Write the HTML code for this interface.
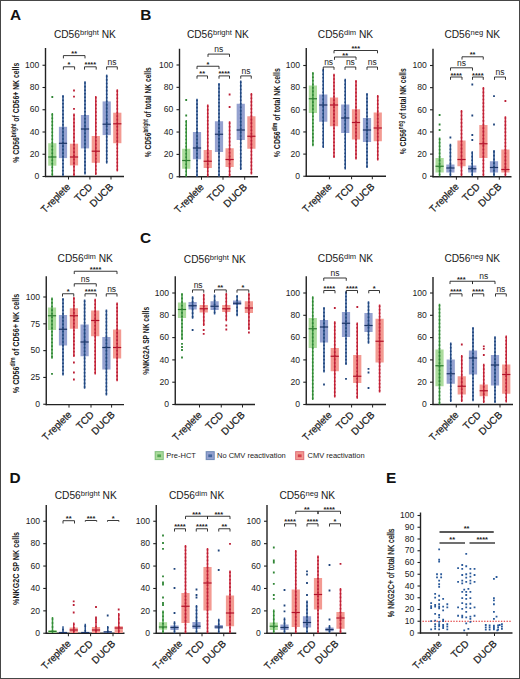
<!DOCTYPE html>
<html><head><meta charset="utf-8"><style>
html,body{margin:0;padding:0;background:#fff;}
#fig{position:relative;width:520px;height:679px;overflow:hidden;}
svg{display:block;font-family:"Liberation Sans", sans-serif;}
</style></head><body><div id="fig">
<svg width="520" height="679" viewBox="0 0 520 679">
<rect x="0" y="0" width="520" height="679" fill="#fff"/>
<text x="10.00" y="20.10" font-size="15.4" text-anchor="start" font-weight="bold" fill="#111" >A</text>
<text x="140.30" y="20.20" font-size="15.4" text-anchor="start" font-weight="bold" fill="#111" >B</text>
<text x="139.90" y="243.40" font-size="15.4" text-anchor="start" font-weight="bold" fill="#111" >C</text>
<text x="9.50" y="482.90" font-size="15.4" text-anchor="start" font-weight="bold" fill="#111" >D</text>
<text x="386.00" y="482.90" font-size="15.4" text-anchor="start" font-weight="bold" fill="#111" >E</text>
<text x="84.90" y="37.90" font-size="10.2" text-anchor="middle" fill="#1a1a1a">CD56<tspan font-size="7.6" dy="-3.4">bright</tspan><tspan dy="3.4"> NK</tspan></text>
<text transform="translate(18.90,112.75) rotate(-90)" x="0" y="0" font-size="9.6" text-anchor="middle" fill="#1a1a1a" font-weight="bold" stroke="#1a1a1a" stroke-width="0" textLength="100" lengthAdjust="spacingAndGlyphs">% CD56<tspan font-size="6.72" dy="-3.4">bright</tspan><tspan dy="3.4"> of CD56+ NK cells</tspan></text>
<line x1="45.50" y1="48.00" x2="45.50" y2="177.10" stroke="#222" stroke-width="1.4" />
<line x1="44.90" y1="176.50" x2="124.00" y2="176.50" stroke="#222" stroke-width="1.4" />
<line x1="42.50" y1="176.50" x2="45.50" y2="176.50" stroke="#222" stroke-width="1.1" />
<text x="39.30" y="179.20" font-size="8.6" text-anchor="end" font-weight="normal" fill="#222" >0</text>
<line x1="42.50" y1="154.25" x2="45.50" y2="154.25" stroke="#222" stroke-width="1.1" />
<text x="39.30" y="156.95" font-size="8.6" text-anchor="end" font-weight="normal" fill="#222" >20</text>
<line x1="42.50" y1="132.00" x2="45.50" y2="132.00" stroke="#222" stroke-width="1.1" />
<text x="39.30" y="134.70" font-size="8.6" text-anchor="end" font-weight="normal" fill="#222" >40</text>
<line x1="42.50" y1="109.75" x2="45.50" y2="109.75" stroke="#222" stroke-width="1.1" />
<text x="39.30" y="112.45" font-size="8.6" text-anchor="end" font-weight="normal" fill="#222" >60</text>
<line x1="42.50" y1="87.50" x2="45.50" y2="87.50" stroke="#222" stroke-width="1.1" />
<text x="39.30" y="90.20" font-size="8.6" text-anchor="end" font-weight="normal" fill="#222" >80</text>
<line x1="42.50" y1="65.25" x2="45.50" y2="65.25" stroke="#222" stroke-width="1.1" />
<text x="39.30" y="67.95" font-size="8.6" text-anchor="end" font-weight="normal" fill="#222" >100</text>
<line x1="68.50" y1="176.50" x2="68.50" y2="179.50" stroke="#222" stroke-width="1" />
<line x1="89.90" y1="176.50" x2="89.90" y2="179.50" stroke="#222" stroke-width="1" />
<line x1="111.00" y1="176.50" x2="111.00" y2="179.50" stroke="#222" stroke-width="1" />
<rect x="48.20" y="143.20" width="8.20" height="22.50" fill="#acdc9d" />
<line x1="52.30" y1="113.00" x2="52.30" y2="176.00" stroke="#3f9a40" stroke-width="1.5" />
<path d="M51.5,114.0h1.6v1.6h-1.6zM51.5,117.5h1.6v1.6h-1.6zM51.5,121.0h1.6v1.6h-1.6zM51.5,124.5h1.6v1.6h-1.6zM51.5,128.0h1.6v1.6h-1.6zM51.5,131.4h1.6v1.6h-1.6zM51.5,134.9h1.6v1.6h-1.6zM51.5,138.4h1.6v1.6h-1.6zM51.5,141.9h1.6v1.6h-1.6zM51.5,145.4h1.6v1.6h-1.6zM51.5,148.9h1.6v1.6h-1.6zM51.5,152.4h1.6v1.6h-1.6zM51.5,155.9h1.6v1.6h-1.6zM51.5,159.4h1.6v1.6h-1.6zM51.5,162.9h1.6v1.6h-1.6zM51.5,166.4h1.6v1.6h-1.6zM51.5,169.9h1.6v1.6h-1.6zM51.5,173.4h1.6v1.6h-1.6zM51.4,96.1h1.8v1.8h-1.8z" fill="#2f8535"/>
<line x1="48.20" y1="157.00" x2="56.40" y2="157.00" stroke="#2c7d30" stroke-width="1.2" />
<rect x="58.90" y="126.80" width="8.20" height="31.30" fill="#95a2d0" />
<line x1="63.00" y1="95.00" x2="63.00" y2="176.00" stroke="#2c5590" stroke-width="1.5" />
<path d="M62.2,96.0h1.6v1.6h-1.6zM62.2,99.5h1.6v1.6h-1.6zM62.2,103.0h1.6v1.6h-1.6zM62.2,106.5h1.6v1.6h-1.6zM62.2,110.0h1.6v1.6h-1.6zM62.2,113.6h1.6v1.6h-1.6zM62.2,117.1h1.6v1.6h-1.6zM62.2,120.6h1.6v1.6h-1.6zM62.2,124.1h1.6v1.6h-1.6zM62.2,127.7h1.6v1.6h-1.6zM62.2,131.2h1.6v1.6h-1.6zM62.2,134.7h1.6v1.6h-1.6zM62.2,138.2h1.6v1.6h-1.6zM62.2,141.7h1.6v1.6h-1.6zM62.2,145.3h1.6v1.6h-1.6zM62.2,148.8h1.6v1.6h-1.6zM62.2,152.3h1.6v1.6h-1.6zM62.2,155.8h1.6v1.6h-1.6zM62.2,159.4h1.6v1.6h-1.6zM62.2,162.9h1.6v1.6h-1.6zM62.2,166.4h1.6v1.6h-1.6zM62.2,169.9h1.6v1.6h-1.6zM62.2,173.4h1.6v1.6h-1.6z" fill="#20457c"/>
<line x1="58.90" y1="143.30" x2="67.10" y2="143.30" stroke="#1b3566" stroke-width="1.2" />
<rect x="69.90" y="143.70" width="8.20" height="21.70" fill="#f39a92" />
<line x1="74.00" y1="113.50" x2="74.00" y2="176.00" stroke="#cc2a3c" stroke-width="1.5" />
<path d="M73.2,114.5h1.6v1.6h-1.6zM73.2,118.2h1.6v1.6h-1.6zM73.2,121.9h1.6v1.6h-1.6zM73.2,125.6h1.6v1.6h-1.6zM73.2,129.2h1.6v1.6h-1.6zM73.2,132.9h1.6v1.6h-1.6zM73.2,136.6h1.6v1.6h-1.6zM73.2,140.3h1.6v1.6h-1.6zM73.2,143.9h1.6v1.6h-1.6zM73.2,147.6h1.6v1.6h-1.6zM73.2,151.3h1.6v1.6h-1.6zM73.2,155.0h1.6v1.6h-1.6zM73.2,158.7h1.6v1.6h-1.6zM73.2,162.3h1.6v1.6h-1.6zM73.2,166.0h1.6v1.6h-1.6zM73.2,169.7h1.6v1.6h-1.6zM73.2,173.4h1.6v1.6h-1.6zM73.1,89.6h1.8v1.8h-1.8zM73.1,95.8h1.8v1.8h-1.8zM73.1,108.0h1.8v1.8h-1.8z" fill="#bb1f36"/>
<line x1="69.90" y1="157.00" x2="78.10" y2="157.00" stroke="#b3122a" stroke-width="1.2" />
<rect x="80.90" y="115.00" width="8.20" height="33.40" fill="#95a2d0" />
<line x1="85.00" y1="81.20" x2="85.00" y2="174.40" stroke="#2c5590" stroke-width="1.5" />
<path d="M84.2,82.2h1.6v1.6h-1.6zM84.2,85.8h1.6v1.6h-1.6zM84.2,89.4h1.6v1.6h-1.6zM84.2,92.9h1.6v1.6h-1.6zM84.2,96.5h1.6v1.6h-1.6zM84.2,100.1h1.6v1.6h-1.6zM84.2,103.7h1.6v1.6h-1.6zM84.2,107.3h1.6v1.6h-1.6zM84.2,110.9h1.6v1.6h-1.6zM84.2,114.5h1.6v1.6h-1.6zM84.2,118.0h1.6v1.6h-1.6zM84.2,121.6h1.6v1.6h-1.6zM84.2,125.2h1.6v1.6h-1.6zM84.2,128.8h1.6v1.6h-1.6zM84.2,132.4h1.6v1.6h-1.6zM84.2,136.0h1.6v1.6h-1.6zM84.2,139.5h1.6v1.6h-1.6zM84.2,143.1h1.6v1.6h-1.6zM84.2,146.7h1.6v1.6h-1.6zM84.2,150.3h1.6v1.6h-1.6zM84.2,153.9h1.6v1.6h-1.6zM84.2,157.5h1.6v1.6h-1.6zM84.2,161.1h1.6v1.6h-1.6zM84.2,164.6h1.6v1.6h-1.6zM84.2,168.2h1.6v1.6h-1.6zM84.2,171.8h1.6v1.6h-1.6z" fill="#20457c"/>
<line x1="80.90" y1="129.00" x2="89.10" y2="129.00" stroke="#1b3566" stroke-width="1.2" />
<rect x="91.70" y="136.00" width="8.20" height="26.80" fill="#f39a92" />
<line x1="95.80" y1="95.90" x2="95.80" y2="175.00" stroke="#cc2a3c" stroke-width="1.5" />
<path d="M95.0,96.9h1.6v1.6h-1.6zM95.0,100.5h1.6v1.6h-1.6zM95.0,104.1h1.6v1.6h-1.6zM95.0,107.7h1.6v1.6h-1.6zM95.0,111.3h1.6v1.6h-1.6zM95.0,114.9h1.6v1.6h-1.6zM95.0,118.5h1.6v1.6h-1.6zM95.0,122.1h1.6v1.6h-1.6zM95.0,125.7h1.6v1.6h-1.6zM95.0,129.3h1.6v1.6h-1.6zM95.0,132.9h1.6v1.6h-1.6zM95.0,136.4h1.6v1.6h-1.6zM95.0,140.0h1.6v1.6h-1.6zM95.0,143.6h1.6v1.6h-1.6zM95.0,147.2h1.6v1.6h-1.6zM95.0,150.8h1.6v1.6h-1.6zM95.0,154.4h1.6v1.6h-1.6zM95.0,158.0h1.6v1.6h-1.6zM95.0,161.6h1.6v1.6h-1.6zM95.0,165.2h1.6v1.6h-1.6zM95.0,168.8h1.6v1.6h-1.6zM95.0,172.4h1.6v1.6h-1.6z" fill="#bb1f36"/>
<line x1="91.70" y1="151.20" x2="99.90" y2="151.20" stroke="#b3122a" stroke-width="1.2" />
<rect x="102.60" y="101.40" width="8.20" height="33.70" fill="#95a2d0" />
<line x1="106.70" y1="74.60" x2="106.70" y2="163.60" stroke="#2c5590" stroke-width="1.5" />
<path d="M105.9,75.6h1.6v1.6h-1.6zM105.9,79.1h1.6v1.6h-1.6zM105.9,82.7h1.6v1.6h-1.6zM105.9,86.3h1.6v1.6h-1.6zM105.9,89.8h1.6v1.6h-1.6zM105.9,93.4h1.6v1.6h-1.6zM105.9,96.9h1.6v1.6h-1.6zM105.9,100.5h1.6v1.6h-1.6zM105.9,104.1h1.6v1.6h-1.6zM105.9,107.6h1.6v1.6h-1.6zM105.9,111.2h1.6v1.6h-1.6zM105.9,114.7h1.6v1.6h-1.6zM105.9,118.3h1.6v1.6h-1.6zM105.9,121.9h1.6v1.6h-1.6zM105.9,125.4h1.6v1.6h-1.6zM105.9,129.0h1.6v1.6h-1.6zM105.9,132.5h1.6v1.6h-1.6zM105.9,136.1h1.6v1.6h-1.6zM105.9,139.7h1.6v1.6h-1.6zM105.9,143.2h1.6v1.6h-1.6zM105.9,146.8h1.6v1.6h-1.6zM105.9,150.3h1.6v1.6h-1.6zM105.9,153.9h1.6v1.6h-1.6zM105.9,157.5h1.6v1.6h-1.6zM105.9,161.0h1.6v1.6h-1.6z" fill="#20457c"/>
<line x1="102.60" y1="124.20" x2="110.80" y2="124.20" stroke="#1b3566" stroke-width="1.2" />
<rect x="113.20" y="112.70" width="8.20" height="30.50" fill="#f39a92" />
<line x1="117.30" y1="89.30" x2="117.30" y2="171.40" stroke="#cc2a3c" stroke-width="1.5" />
<path d="M116.5,90.3h1.6v1.6h-1.6zM116.5,93.9h1.6v1.6h-1.6zM116.5,97.4h1.6v1.6h-1.6zM116.5,101.0h1.6v1.6h-1.6zM116.5,104.6h1.6v1.6h-1.6zM116.5,108.1h1.6v1.6h-1.6zM116.5,111.7h1.6v1.6h-1.6zM116.5,115.3h1.6v1.6h-1.6zM116.5,118.8h1.6v1.6h-1.6zM116.5,122.4h1.6v1.6h-1.6zM116.5,126.0h1.6v1.6h-1.6zM116.5,129.5h1.6v1.6h-1.6zM116.5,133.1h1.6v1.6h-1.6zM116.5,136.7h1.6v1.6h-1.6zM116.5,140.3h1.6v1.6h-1.6zM116.5,143.8h1.6v1.6h-1.6zM116.5,147.4h1.6v1.6h-1.6zM116.5,151.0h1.6v1.6h-1.6zM116.5,154.5h1.6v1.6h-1.6zM116.5,158.1h1.6v1.6h-1.6zM116.5,161.7h1.6v1.6h-1.6zM116.5,165.2h1.6v1.6h-1.6zM116.5,168.8h1.6v1.6h-1.6z" fill="#bb1f36"/>
<line x1="113.20" y1="123.80" x2="121.40" y2="123.80" stroke="#b3122a" stroke-width="1.2" />
<path d="M63.40,69.60 V66.80 H74.60 V69.60" fill="none" stroke="#222" stroke-width="0.9"/>
<text x="69.00" y="67.30" font-size="7.4" text-anchor="middle" font-weight="bold" fill="#222" >*</text>
<path d="M84.50,69.60 V66.80 H96.20 V69.60" fill="none" stroke="#222" stroke-width="0.9"/>
<text x="90.35" y="67.30" font-size="7.4" text-anchor="middle" font-weight="bold" fill="#222" >****</text>
<path d="M106.60,69.60 V66.80 H117.30 V69.60" fill="none" stroke="#222" stroke-width="0.9"/>
<text x="111.95" y="65.00" font-size="8.5" text-anchor="middle" font-weight="normal" fill="#222" >ns</text>
<path d="M63.40,58.40 V55.60 H85.00 V58.40" fill="none" stroke="#222" stroke-width="0.9"/>
<text x="74.20" y="56.10" font-size="7.4" text-anchor="middle" font-weight="bold" fill="#222" >**</text>
<text transform="translate(70.90,187.60) rotate(-45)" x="0" y="0" font-size="10" text-anchor="end" fill="#1a1a1a" stroke="#1a1a1a" stroke-width="0.25" textLength="36.5" lengthAdjust="spacingAndGlyphs">T-replete</text>
<text transform="translate(93.10,187.60) rotate(-45)" x="0" y="0" font-size="10" text-anchor="end" fill="#1a1a1a" stroke="#1a1a1a" stroke-width="0.25" >TCD</text>
<text transform="translate(113.90,187.60) rotate(-45)" x="0" y="0" font-size="10" text-anchor="end" fill="#1a1a1a" stroke="#1a1a1a" stroke-width="0.25" >DUCB</text>
<text x="217.90" y="38.10" font-size="10.2" text-anchor="middle" fill="#1a1a1a">CD56<tspan font-size="7.6" dy="-3.4">bright</tspan><tspan dy="3.4"> NK</tspan></text>
<text transform="translate(151.00,112.25) rotate(-90)" x="0" y="0" font-size="9.6" text-anchor="middle" fill="#1a1a1a" font-weight="bold" stroke="#1a1a1a" stroke-width="0" textLength="90" lengthAdjust="spacingAndGlyphs">% CD56<tspan font-size="6.72" dy="-3.4">bright</tspan><tspan dy="3.4"> of total NK cells</tspan></text>
<line x1="179.50" y1="48.75" x2="179.50" y2="177.35" stroke="#222" stroke-width="1.4" />
<line x1="178.90" y1="176.75" x2="258.00" y2="176.75" stroke="#222" stroke-width="1.4" />
<line x1="176.50" y1="176.75" x2="179.50" y2="176.75" stroke="#222" stroke-width="1.1" />
<text x="173.30" y="179.45" font-size="8.6" text-anchor="end" font-weight="normal" fill="#222" >0</text>
<line x1="176.50" y1="154.40" x2="179.50" y2="154.40" stroke="#222" stroke-width="1.1" />
<text x="173.30" y="157.10" font-size="8.6" text-anchor="end" font-weight="normal" fill="#222" >20</text>
<line x1="176.50" y1="132.05" x2="179.50" y2="132.05" stroke="#222" stroke-width="1.1" />
<text x="173.30" y="134.75" font-size="8.6" text-anchor="end" font-weight="normal" fill="#222" >40</text>
<line x1="176.50" y1="109.70" x2="179.50" y2="109.70" stroke="#222" stroke-width="1.1" />
<text x="173.30" y="112.40" font-size="8.6" text-anchor="end" font-weight="normal" fill="#222" >60</text>
<line x1="176.50" y1="87.35" x2="179.50" y2="87.35" stroke="#222" stroke-width="1.1" />
<text x="173.30" y="90.05" font-size="8.6" text-anchor="end" font-weight="normal" fill="#222" >80</text>
<line x1="176.50" y1="65.00" x2="179.50" y2="65.00" stroke="#222" stroke-width="1.1" />
<text x="173.30" y="67.70" font-size="8.6" text-anchor="end" font-weight="normal" fill="#222" >100</text>
<line x1="201.50" y1="176.75" x2="201.50" y2="179.75" stroke="#222" stroke-width="1" />
<line x1="223.00" y1="176.75" x2="223.00" y2="179.75" stroke="#222" stroke-width="1" />
<line x1="244.70" y1="176.75" x2="244.70" y2="179.75" stroke="#222" stroke-width="1" />
<rect x="182.15" y="148.75" width="8.20" height="20.00" fill="#acdc9d" />
<line x1="186.25" y1="120.00" x2="186.25" y2="176.75" stroke="#3f9a40" stroke-width="1.5" />
<path d="M185.4,121.0h1.6v1.6h-1.6zM185.4,124.5h1.6v1.6h-1.6zM185.4,128.1h1.6v1.6h-1.6zM185.4,131.6h1.6v1.6h-1.6zM185.4,135.2h1.6v1.6h-1.6zM185.4,138.7h1.6v1.6h-1.6zM185.4,142.3h1.6v1.6h-1.6zM185.4,145.8h1.6v1.6h-1.6zM185.4,149.3h1.6v1.6h-1.6zM185.4,152.9h1.6v1.6h-1.6zM185.4,156.4h1.6v1.6h-1.6zM185.4,160.0h1.6v1.6h-1.6zM185.4,163.5h1.6v1.6h-1.6zM185.4,167.1h1.6v1.6h-1.6zM185.4,170.6h1.6v1.6h-1.6zM185.4,174.2h1.6v1.6h-1.6zM185.3,99.1h1.8v1.8h-1.8zM185.3,114.6h1.8v1.8h-1.8z" fill="#2f8535"/>
<line x1="182.15" y1="160.50" x2="190.35" y2="160.50" stroke="#2c7d30" stroke-width="1.2" />
<rect x="192.90" y="132.00" width="8.20" height="27.25" fill="#95a2d0" />
<line x1="197.00" y1="98.75" x2="197.00" y2="176.75" stroke="#2c5590" stroke-width="1.5" />
<path d="M196.2,99.7h1.6v1.6h-1.6zM196.2,103.3h1.6v1.6h-1.6zM196.2,106.8h1.6v1.6h-1.6zM196.2,110.4h1.6v1.6h-1.6zM196.2,113.9h1.6v1.6h-1.6zM196.2,117.5h1.6v1.6h-1.6zM196.2,121.0h1.6v1.6h-1.6zM196.2,124.5h1.6v1.6h-1.6zM196.2,128.1h1.6v1.6h-1.6zM196.2,131.6h1.6v1.6h-1.6zM196.2,135.2h1.6v1.6h-1.6zM196.2,138.7h1.6v1.6h-1.6zM196.2,142.3h1.6v1.6h-1.6zM196.2,145.8h1.6v1.6h-1.6zM196.2,149.4h1.6v1.6h-1.6zM196.2,152.9h1.6v1.6h-1.6zM196.2,156.4h1.6v1.6h-1.6zM196.2,160.0h1.6v1.6h-1.6zM196.2,163.5h1.6v1.6h-1.6zM196.2,167.1h1.6v1.6h-1.6zM196.2,170.6h1.6v1.6h-1.6zM196.2,174.2h1.6v1.6h-1.6z" fill="#20457c"/>
<line x1="192.90" y1="148.00" x2="201.10" y2="148.00" stroke="#1b3566" stroke-width="1.2" />
<rect x="203.65" y="150.00" width="8.20" height="18.00" fill="#f39a92" />
<line x1="207.75" y1="104.50" x2="207.75" y2="176.75" stroke="#cc2a3c" stroke-width="1.5" />
<path d="M206.9,105.5h1.6v1.6h-1.6zM206.9,109.1h1.6v1.6h-1.6zM206.9,112.7h1.6v1.6h-1.6zM206.9,116.3h1.6v1.6h-1.6zM206.9,120.0h1.6v1.6h-1.6zM206.9,123.6h1.6v1.6h-1.6zM206.9,127.2h1.6v1.6h-1.6zM206.9,130.8h1.6v1.6h-1.6zM206.9,134.4h1.6v1.6h-1.6zM206.9,138.0h1.6v1.6h-1.6zM206.9,141.6h1.6v1.6h-1.6zM206.9,145.2h1.6v1.6h-1.6zM206.9,148.9h1.6v1.6h-1.6zM206.9,152.5h1.6v1.6h-1.6zM206.9,156.1h1.6v1.6h-1.6zM206.9,159.7h1.6v1.6h-1.6zM206.9,163.3h1.6v1.6h-1.6zM206.9,166.9h1.6v1.6h-1.6zM206.9,170.5h1.6v1.6h-1.6zM206.9,174.1h1.6v1.6h-1.6z" fill="#bb1f36"/>
<line x1="203.65" y1="161.25" x2="211.85" y2="161.25" stroke="#b3122a" stroke-width="1.2" />
<rect x="214.90" y="121.25" width="8.20" height="30.75" fill="#95a2d0" />
<line x1="219.00" y1="83.00" x2="219.00" y2="176.75" stroke="#2c5590" stroke-width="1.5" />
<path d="M218.2,84.0h1.6v1.6h-1.6zM218.2,87.6h1.6v1.6h-1.6zM218.2,91.2h1.6v1.6h-1.6zM218.2,94.8h1.6v1.6h-1.6zM218.2,98.4h1.6v1.6h-1.6zM218.2,102.0h1.6v1.6h-1.6zM218.2,105.6h1.6v1.6h-1.6zM218.2,109.2h1.6v1.6h-1.6zM218.2,112.8h1.6v1.6h-1.6zM218.2,116.5h1.6v1.6h-1.6zM218.2,120.1h1.6v1.6h-1.6zM218.2,123.7h1.6v1.6h-1.6zM218.2,127.3h1.6v1.6h-1.6zM218.2,130.9h1.6v1.6h-1.6zM218.2,134.5h1.6v1.6h-1.6zM218.2,138.1h1.6v1.6h-1.6zM218.2,141.7h1.6v1.6h-1.6zM218.2,145.3h1.6v1.6h-1.6zM218.2,148.9h1.6v1.6h-1.6zM218.2,152.5h1.6v1.6h-1.6zM218.2,156.1h1.6v1.6h-1.6zM218.2,159.7h1.6v1.6h-1.6zM218.2,163.3h1.6v1.6h-1.6zM218.2,166.9h1.6v1.6h-1.6zM218.2,170.5h1.6v1.6h-1.6zM218.2,174.1h1.6v1.6h-1.6z" fill="#20457c"/>
<line x1="214.90" y1="134.25" x2="223.10" y2="134.25" stroke="#1b3566" stroke-width="1.2" />
<rect x="225.50" y="148.25" width="8.20" height="18.75" fill="#f39a92" />
<line x1="229.60" y1="121.25" x2="229.60" y2="176.75" stroke="#cc2a3c" stroke-width="1.5" />
<path d="M228.8,122.3h1.6v1.6h-1.6zM228.8,126.0h1.6v1.6h-1.6zM228.8,129.7h1.6v1.6h-1.6zM228.8,133.4h1.6v1.6h-1.6zM228.8,137.1h1.6v1.6h-1.6zM228.8,140.8h1.6v1.6h-1.6zM228.8,144.5h1.6v1.6h-1.6zM228.8,148.2h1.6v1.6h-1.6zM228.8,151.9h1.6v1.6h-1.6zM228.8,155.6h1.6v1.6h-1.6zM228.8,159.3h1.6v1.6h-1.6zM228.8,163.0h1.6v1.6h-1.6zM228.8,166.7h1.6v1.6h-1.6zM228.8,170.4h1.6v1.6h-1.6zM228.8,174.1h1.6v1.6h-1.6zM228.7,93.6h1.8v1.8h-1.8zM228.7,106.1h1.8v1.8h-1.8z" fill="#bb1f36"/>
<line x1="225.50" y1="159.50" x2="233.70" y2="159.50" stroke="#b3122a" stroke-width="1.2" />
<rect x="236.65" y="103.75" width="8.20" height="36.25" fill="#95a2d0" />
<line x1="240.75" y1="80.50" x2="240.75" y2="170.00" stroke="#2c5590" stroke-width="1.5" />
<path d="M239.9,81.5h1.6v1.6h-1.6zM239.9,85.1h1.6v1.6h-1.6zM239.9,88.7h1.6v1.6h-1.6zM239.9,92.2h1.6v1.6h-1.6zM239.9,95.8h1.6v1.6h-1.6zM239.9,99.4h1.6v1.6h-1.6zM239.9,103.0h1.6v1.6h-1.6zM239.9,106.5h1.6v1.6h-1.6zM239.9,110.1h1.6v1.6h-1.6zM239.9,113.7h1.6v1.6h-1.6zM239.9,117.3h1.6v1.6h-1.6zM239.9,120.9h1.6v1.6h-1.6zM239.9,124.5h1.6v1.6h-1.6zM239.9,128.0h1.6v1.6h-1.6zM239.9,131.6h1.6v1.6h-1.6zM239.9,135.2h1.6v1.6h-1.6zM239.9,138.8h1.6v1.6h-1.6zM239.9,142.3h1.6v1.6h-1.6zM239.9,145.9h1.6v1.6h-1.6zM239.9,149.5h1.6v1.6h-1.6zM239.9,153.1h1.6v1.6h-1.6zM239.9,156.7h1.6v1.6h-1.6zM239.9,160.2h1.6v1.6h-1.6zM239.9,163.8h1.6v1.6h-1.6zM239.9,167.4h1.6v1.6h-1.6z" fill="#20457c"/>
<line x1="236.65" y1="130.00" x2="244.85" y2="130.00" stroke="#1b3566" stroke-width="1.2" />
<rect x="247.30" y="116.25" width="8.20" height="32.50" fill="#f39a92" />
<line x1="251.40" y1="93.00" x2="251.40" y2="174.50" stroke="#cc2a3c" stroke-width="1.5" />
<path d="M250.6,94.0h1.6v1.6h-1.6zM250.6,97.5h1.6v1.6h-1.6zM250.6,101.1h1.6v1.6h-1.6zM250.6,104.6h1.6v1.6h-1.6zM250.6,108.1h1.6v1.6h-1.6zM250.6,111.7h1.6v1.6h-1.6zM250.6,115.2h1.6v1.6h-1.6zM250.6,118.8h1.6v1.6h-1.6zM250.6,122.3h1.6v1.6h-1.6zM250.6,125.9h1.6v1.6h-1.6zM250.6,129.4h1.6v1.6h-1.6zM250.6,132.9h1.6v1.6h-1.6zM250.6,136.5h1.6v1.6h-1.6zM250.6,140.0h1.6v1.6h-1.6zM250.6,143.6h1.6v1.6h-1.6zM250.6,147.1h1.6v1.6h-1.6zM250.6,150.7h1.6v1.6h-1.6zM250.6,154.2h1.6v1.6h-1.6zM250.6,157.8h1.6v1.6h-1.6zM250.6,161.3h1.6v1.6h-1.6zM250.6,164.8h1.6v1.6h-1.6zM250.6,168.4h1.6v1.6h-1.6zM250.6,171.9h1.6v1.6h-1.6z" fill="#bb1f36"/>
<line x1="247.30" y1="136.25" x2="255.50" y2="136.25" stroke="#b3122a" stroke-width="1.2" />
<path d="M197.00,78.70 V75.90 H207.50 V78.70" fill="none" stroke="#222" stroke-width="0.9"/>
<text x="202.25" y="76.40" font-size="7.4" text-anchor="middle" font-weight="bold" fill="#222" >**</text>
<path d="M219.00,78.70 V75.90 H229.50 V78.70" fill="none" stroke="#222" stroke-width="0.9"/>
<text x="224.25" y="76.40" font-size="7.4" text-anchor="middle" font-weight="bold" fill="#222" >****</text>
<path d="M240.75,78.70 V75.90 H251.25 V78.70" fill="none" stroke="#222" stroke-width="0.9"/>
<text x="246.00" y="74.10" font-size="8.5" text-anchor="middle" font-weight="normal" fill="#222" >ns</text>
<path d="M197.00,69.05 V66.25 H219.00 V69.05" fill="none" stroke="#222" stroke-width="0.9"/>
<text x="208.00" y="66.75" font-size="7.4" text-anchor="middle" font-weight="bold" fill="#222" >*</text>
<path d="M208.00,56.90 V54.10 H229.50 V56.90" fill="none" stroke="#222" stroke-width="0.9"/>
<text x="218.75" y="52.30" font-size="8.5" text-anchor="middle" font-weight="normal" fill="#222" >ns</text>
<text transform="translate(204.40,187.85) rotate(-45)" x="0" y="0" font-size="10" text-anchor="end" fill="#1a1a1a" stroke="#1a1a1a" stroke-width="0.25" textLength="36.5" lengthAdjust="spacingAndGlyphs">T-replete</text>
<text transform="translate(225.90,187.85) rotate(-45)" x="0" y="0" font-size="10" text-anchor="end" fill="#1a1a1a" stroke="#1a1a1a" stroke-width="0.25" >TCD</text>
<text transform="translate(247.60,187.85) rotate(-45)" x="0" y="0" font-size="10" text-anchor="end" fill="#1a1a1a" stroke="#1a1a1a" stroke-width="0.25" >DUCB</text>
<text x="345.50" y="37.90" font-size="10.2" text-anchor="middle" fill="#1a1a1a">CD56<tspan font-size="7.6" dy="-3.4">dim</tspan><tspan dy="3.4"> NK</tspan></text>
<text transform="translate(280.20,112.75) rotate(-90)" x="0" y="0" font-size="9.6" text-anchor="middle" fill="#1a1a1a" font-weight="bold" stroke="#1a1a1a" stroke-width="0" textLength="89" lengthAdjust="spacingAndGlyphs">% CD56<tspan font-size="6.72" dy="-3.4">dim</tspan><tspan dy="3.4"> of total NK cells</tspan></text>
<line x1="306.25" y1="48.00" x2="306.25" y2="176.85" stroke="#222" stroke-width="1.4" />
<line x1="305.65" y1="176.25" x2="386.00" y2="176.25" stroke="#222" stroke-width="1.4" />
<line x1="303.25" y1="176.25" x2="306.25" y2="176.25" stroke="#222" stroke-width="1.1" />
<text x="300.05" y="178.95" font-size="8.6" text-anchor="end" font-weight="normal" fill="#222" >0</text>
<line x1="303.25" y1="154.10" x2="306.25" y2="154.10" stroke="#222" stroke-width="1.1" />
<text x="300.05" y="156.80" font-size="8.6" text-anchor="end" font-weight="normal" fill="#222" >20</text>
<line x1="303.25" y1="131.95" x2="306.25" y2="131.95" stroke="#222" stroke-width="1.1" />
<text x="300.05" y="134.65" font-size="8.6" text-anchor="end" font-weight="normal" fill="#222" >40</text>
<line x1="303.25" y1="109.80" x2="306.25" y2="109.80" stroke="#222" stroke-width="1.1" />
<text x="300.05" y="112.50" font-size="8.6" text-anchor="end" font-weight="normal" fill="#222" >60</text>
<line x1="303.25" y1="87.65" x2="306.25" y2="87.65" stroke="#222" stroke-width="1.1" />
<text x="300.05" y="90.35" font-size="8.6" text-anchor="end" font-weight="normal" fill="#222" >80</text>
<line x1="303.25" y1="65.50" x2="306.25" y2="65.50" stroke="#222" stroke-width="1.1" />
<text x="300.05" y="68.20" font-size="8.6" text-anchor="end" font-weight="normal" fill="#222" >100</text>
<line x1="329.40" y1="176.25" x2="329.40" y2="179.25" stroke="#222" stroke-width="1" />
<line x1="351.60" y1="176.25" x2="351.60" y2="179.25" stroke="#222" stroke-width="1" />
<line x1="372.30" y1="176.25" x2="372.30" y2="179.25" stroke="#222" stroke-width="1" />
<rect x="308.80" y="85.50" width="8.20" height="27.50" fill="#acdc9d" />
<line x1="312.90" y1="72.00" x2="312.90" y2="146.25" stroke="#3f9a40" stroke-width="1.5" />
<path d="M312.1,73.0h1.6v1.6h-1.6zM312.1,76.5h1.6v1.6h-1.6zM312.1,80.0h1.6v1.6h-1.6zM312.1,83.6h1.6v1.6h-1.6zM312.1,87.1h1.6v1.6h-1.6zM312.1,90.6h1.6v1.6h-1.6zM312.1,94.2h1.6v1.6h-1.6zM312.1,97.7h1.6v1.6h-1.6zM312.1,101.3h1.6v1.6h-1.6zM312.1,104.8h1.6v1.6h-1.6zM312.1,108.3h1.6v1.6h-1.6zM312.1,111.9h1.6v1.6h-1.6zM312.1,115.4h1.6v1.6h-1.6zM312.1,118.9h1.6v1.6h-1.6zM312.1,122.5h1.6v1.6h-1.6zM312.1,126.0h1.6v1.6h-1.6zM312.1,129.5h1.6v1.6h-1.6zM312.1,133.1h1.6v1.6h-1.6zM312.1,136.6h1.6v1.6h-1.6zM312.1,140.1h1.6v1.6h-1.6zM312.1,143.7h1.6v1.6h-1.6z" fill="#2f8535"/>
<line x1="308.80" y1="98.75" x2="317.00" y2="98.75" stroke="#2c7d30" stroke-width="1.2" />
<rect x="319.15" y="94.50" width="8.20" height="27.25" fill="#95a2d0" />
<line x1="323.25" y1="68.75" x2="323.25" y2="148.00" stroke="#2c5590" stroke-width="1.5" />
<path d="M322.4,69.8h1.6v1.6h-1.6zM322.4,73.4h1.6v1.6h-1.6zM322.4,77.0h1.6v1.6h-1.6zM322.4,80.6h1.6v1.6h-1.6zM322.4,84.2h1.6v1.6h-1.6zM322.4,87.8h1.6v1.6h-1.6zM322.4,91.4h1.6v1.6h-1.6zM322.4,95.0h1.6v1.6h-1.6zM322.4,98.6h1.6v1.6h-1.6zM322.4,102.2h1.6v1.6h-1.6zM322.4,105.8h1.6v1.6h-1.6zM322.4,109.4h1.6v1.6h-1.6zM322.4,113.0h1.6v1.6h-1.6zM322.4,116.6h1.6v1.6h-1.6zM322.4,120.2h1.6v1.6h-1.6zM322.4,123.8h1.6v1.6h-1.6zM322.4,127.4h1.6v1.6h-1.6zM322.4,131.0h1.6v1.6h-1.6zM322.4,134.6h1.6v1.6h-1.6zM322.4,138.2h1.6v1.6h-1.6zM322.4,141.8h1.6v1.6h-1.6zM322.4,145.4h1.6v1.6h-1.6z" fill="#20457c"/>
<line x1="319.15" y1="105.00" x2="327.35" y2="105.00" stroke="#1b3566" stroke-width="1.2" />
<rect x="329.90" y="97.50" width="8.20" height="28.75" fill="#f39a92" />
<line x1="334.00" y1="73.75" x2="334.00" y2="158.00" stroke="#cc2a3c" stroke-width="1.5" />
<path d="M333.2,74.7h1.6v1.6h-1.6zM333.2,78.2h1.6v1.6h-1.6zM333.2,81.7h1.6v1.6h-1.6zM333.2,85.2h1.6v1.6h-1.6zM333.2,88.7h1.6v1.6h-1.6zM333.2,92.3h1.6v1.6h-1.6zM333.2,95.8h1.6v1.6h-1.6zM333.2,99.3h1.6v1.6h-1.6zM333.2,102.8h1.6v1.6h-1.6zM333.2,106.3h1.6v1.6h-1.6zM333.2,109.8h1.6v1.6h-1.6zM333.2,113.3h1.6v1.6h-1.6zM333.2,116.8h1.6v1.6h-1.6zM333.2,120.3h1.6v1.6h-1.6zM333.2,123.9h1.6v1.6h-1.6zM333.2,127.4h1.6v1.6h-1.6zM333.2,130.9h1.6v1.6h-1.6zM333.2,134.4h1.6v1.6h-1.6zM333.2,137.9h1.6v1.6h-1.6zM333.2,141.4h1.6v1.6h-1.6zM333.2,144.9h1.6v1.6h-1.6zM333.2,148.4h1.6v1.6h-1.6zM333.2,151.9h1.6v1.6h-1.6zM333.2,155.4h1.6v1.6h-1.6z" fill="#bb1f36"/>
<line x1="329.90" y1="105.00" x2="338.10" y2="105.00" stroke="#b3122a" stroke-width="1.2" />
<rect x="341.15" y="104.50" width="8.20" height="28.50" fill="#95a2d0" />
<line x1="345.25" y1="78.75" x2="345.25" y2="169.50" stroke="#2c5590" stroke-width="1.5" />
<path d="M344.4,79.8h1.6v1.6h-1.6zM344.4,83.4h1.6v1.6h-1.6zM344.4,87.0h1.6v1.6h-1.6zM344.4,90.7h1.6v1.6h-1.6zM344.4,94.3h1.6v1.6h-1.6zM344.4,97.9h1.6v1.6h-1.6zM344.4,101.5h1.6v1.6h-1.6zM344.4,105.2h1.6v1.6h-1.6zM344.4,108.8h1.6v1.6h-1.6zM344.4,112.4h1.6v1.6h-1.6zM344.4,116.1h1.6v1.6h-1.6zM344.4,119.7h1.6v1.6h-1.6zM344.4,123.3h1.6v1.6h-1.6zM344.4,127.0h1.6v1.6h-1.6zM344.4,130.6h1.6v1.6h-1.6zM344.4,134.2h1.6v1.6h-1.6zM344.4,137.8h1.6v1.6h-1.6zM344.4,141.5h1.6v1.6h-1.6zM344.4,145.1h1.6v1.6h-1.6zM344.4,148.7h1.6v1.6h-1.6zM344.4,152.4h1.6v1.6h-1.6zM344.4,156.0h1.6v1.6h-1.6zM344.4,159.6h1.6v1.6h-1.6zM344.4,163.3h1.6v1.6h-1.6zM344.4,166.9h1.6v1.6h-1.6z" fill="#20457c"/>
<line x1="341.15" y1="118.00" x2="349.35" y2="118.00" stroke="#1b3566" stroke-width="1.2" />
<rect x="351.90" y="109.25" width="8.20" height="30.25" fill="#f39a92" />
<line x1="356.00" y1="80.00" x2="356.00" y2="159.50" stroke="#cc2a3c" stroke-width="1.5" />
<path d="M355.2,81.0h1.6v1.6h-1.6zM355.2,84.6h1.6v1.6h-1.6zM355.2,88.2h1.6v1.6h-1.6zM355.2,91.8h1.6v1.6h-1.6zM355.2,95.5h1.6v1.6h-1.6zM355.2,99.1h1.6v1.6h-1.6zM355.2,102.7h1.6v1.6h-1.6zM355.2,106.3h1.6v1.6h-1.6zM355.2,109.9h1.6v1.6h-1.6zM355.2,113.5h1.6v1.6h-1.6zM355.2,117.1h1.6v1.6h-1.6zM355.2,120.8h1.6v1.6h-1.6zM355.2,124.4h1.6v1.6h-1.6zM355.2,128.0h1.6v1.6h-1.6zM355.2,131.6h1.6v1.6h-1.6zM355.2,135.2h1.6v1.6h-1.6zM355.2,138.8h1.6v1.6h-1.6zM355.2,142.4h1.6v1.6h-1.6zM355.2,146.1h1.6v1.6h-1.6zM355.2,149.7h1.6v1.6h-1.6zM355.2,153.3h1.6v1.6h-1.6zM355.2,156.9h1.6v1.6h-1.6z" fill="#bb1f36"/>
<line x1="351.90" y1="122.50" x2="360.10" y2="122.50" stroke="#b3122a" stroke-width="1.2" />
<rect x="362.90" y="118.00" width="8.20" height="24.00" fill="#95a2d0" />
<line x1="367.00" y1="93.00" x2="367.00" y2="168.00" stroke="#2c5590" stroke-width="1.5" />
<path d="M366.2,94.0h1.6v1.6h-1.6zM366.2,97.6h1.6v1.6h-1.6zM366.2,101.1h1.6v1.6h-1.6zM366.2,104.7h1.6v1.6h-1.6zM366.2,108.3h1.6v1.6h-1.6zM366.2,111.8h1.6v1.6h-1.6zM366.2,115.4h1.6v1.6h-1.6zM366.2,119.0h1.6v1.6h-1.6zM366.2,122.6h1.6v1.6h-1.6zM366.2,126.1h1.6v1.6h-1.6zM366.2,129.7h1.6v1.6h-1.6zM366.2,133.3h1.6v1.6h-1.6zM366.2,136.8h1.6v1.6h-1.6zM366.2,140.4h1.6v1.6h-1.6zM366.2,144.0h1.6v1.6h-1.6zM366.2,147.6h1.6v1.6h-1.6zM366.2,151.1h1.6v1.6h-1.6zM366.2,154.7h1.6v1.6h-1.6zM366.2,158.3h1.6v1.6h-1.6zM366.2,161.8h1.6v1.6h-1.6zM366.2,165.4h1.6v1.6h-1.6z" fill="#20457c"/>
<line x1="362.90" y1="130.00" x2="371.10" y2="130.00" stroke="#1b3566" stroke-width="1.2" />
<rect x="373.65" y="112.50" width="8.20" height="28.75" fill="#f39a92" />
<line x1="377.75" y1="95.00" x2="377.75" y2="160.50" stroke="#cc2a3c" stroke-width="1.5" />
<path d="M376.9,96.0h1.6v1.6h-1.6zM376.9,99.7h1.6v1.6h-1.6zM376.9,103.3h1.6v1.6h-1.6zM376.9,106.9h1.6v1.6h-1.6zM376.9,110.6h1.6v1.6h-1.6zM376.9,114.2h1.6v1.6h-1.6zM376.9,117.9h1.6v1.6h-1.6zM376.9,121.5h1.6v1.6h-1.6zM376.9,125.1h1.6v1.6h-1.6zM376.9,128.8h1.6v1.6h-1.6zM376.9,132.4h1.6v1.6h-1.6zM376.9,136.0h1.6v1.6h-1.6zM376.9,139.7h1.6v1.6h-1.6zM376.9,143.3h1.6v1.6h-1.6zM376.9,147.0h1.6v1.6h-1.6zM376.9,150.6h1.6v1.6h-1.6zM376.9,154.2h1.6v1.6h-1.6zM376.9,157.9h1.6v1.6h-1.6z" fill="#bb1f36"/>
<line x1="373.65" y1="128.00" x2="381.85" y2="128.00" stroke="#b3122a" stroke-width="1.2" />
<path d="M323.25,69.80 V67.00 H334.00 V69.80" fill="none" stroke="#222" stroke-width="0.9"/>
<text x="328.62" y="65.20" font-size="8.5" text-anchor="middle" font-weight="normal" fill="#222" >ns</text>
<path d="M345.00,69.80 V67.00 H355.75 V69.80" fill="none" stroke="#222" stroke-width="0.9"/>
<text x="350.38" y="65.20" font-size="8.5" text-anchor="middle" font-weight="normal" fill="#222" >ns</text>
<path d="M367.00,69.80 V67.00 H377.50 V69.80" fill="none" stroke="#222" stroke-width="0.9"/>
<text x="372.25" y="65.20" font-size="8.5" text-anchor="middle" font-weight="normal" fill="#222" >ns</text>
<path d="M334.50,59.80 V57.00 H356.00 V59.80" fill="none" stroke="#222" stroke-width="0.9"/>
<text x="345.25" y="57.50" font-size="7.4" text-anchor="middle" font-weight="bold" fill="#222" >**</text>
<path d="M334.00,53.30 V50.50 H377.50 V53.30" fill="none" stroke="#222" stroke-width="0.9"/>
<text x="355.75" y="51.00" font-size="7.4" text-anchor="middle" font-weight="bold" fill="#222" >***</text>
<text transform="translate(332.30,187.35) rotate(-45)" x="0" y="0" font-size="10" text-anchor="end" fill="#1a1a1a" stroke="#1a1a1a" stroke-width="0.25" textLength="36.5" lengthAdjust="spacingAndGlyphs">T-replete</text>
<text transform="translate(354.50,187.35) rotate(-45)" x="0" y="0" font-size="10" text-anchor="end" fill="#1a1a1a" stroke="#1a1a1a" stroke-width="0.25" >TCD</text>
<text transform="translate(375.20,187.35) rotate(-45)" x="0" y="0" font-size="10" text-anchor="end" fill="#1a1a1a" stroke="#1a1a1a" stroke-width="0.25" >DUCB</text>
<text x="472.25" y="38.40" font-size="10.2" text-anchor="middle" fill="#1a1a1a">CD56<tspan font-size="7.6" dy="-3.4">neg</tspan><tspan dy="3.4"> NK</tspan></text>
<text transform="translate(406.40,111.30) rotate(-90)" x="0" y="0" font-size="9.6" text-anchor="middle" fill="#1a1a1a" font-weight="bold" stroke="#1a1a1a" stroke-width="0" textLength="86" lengthAdjust="spacingAndGlyphs">% CD56<tspan font-size="6.72" dy="-3.4">neg</tspan><tspan dy="3.4"> of total NK cells</tspan></text>
<line x1="433.00" y1="48.75" x2="433.00" y2="177.30" stroke="#222" stroke-width="1.4" />
<line x1="432.40" y1="176.70" x2="511.50" y2="176.70" stroke="#222" stroke-width="1.4" />
<line x1="430.00" y1="176.25" x2="433.00" y2="176.25" stroke="#222" stroke-width="1.1" />
<text x="426.80" y="178.95" font-size="8.6" text-anchor="end" font-weight="normal" fill="#222" >0</text>
<line x1="430.00" y1="154.10" x2="433.00" y2="154.10" stroke="#222" stroke-width="1.1" />
<text x="426.80" y="156.80" font-size="8.6" text-anchor="end" font-weight="normal" fill="#222" >20</text>
<line x1="430.00" y1="131.95" x2="433.00" y2="131.95" stroke="#222" stroke-width="1.1" />
<text x="426.80" y="134.65" font-size="8.6" text-anchor="end" font-weight="normal" fill="#222" >40</text>
<line x1="430.00" y1="109.80" x2="433.00" y2="109.80" stroke="#222" stroke-width="1.1" />
<text x="426.80" y="112.50" font-size="8.6" text-anchor="end" font-weight="normal" fill="#222" >60</text>
<line x1="430.00" y1="87.65" x2="433.00" y2="87.65" stroke="#222" stroke-width="1.1" />
<text x="426.80" y="90.35" font-size="8.6" text-anchor="end" font-weight="normal" fill="#222" >80</text>
<line x1="430.00" y1="65.50" x2="433.00" y2="65.50" stroke="#222" stroke-width="1.1" />
<text x="426.80" y="68.20" font-size="8.6" text-anchor="end" font-weight="normal" fill="#222" >100</text>
<line x1="456.40" y1="176.70" x2="456.40" y2="179.70" stroke="#222" stroke-width="1" />
<line x1="477.80" y1="176.70" x2="477.80" y2="179.70" stroke="#222" stroke-width="1" />
<line x1="499.30" y1="176.70" x2="499.30" y2="179.70" stroke="#222" stroke-width="1" />
<rect x="435.50" y="158.00" width="8.20" height="14.50" fill="#acdc9d" />
<line x1="439.60" y1="137.50" x2="439.60" y2="176.25" stroke="#3f9a40" stroke-width="1.5" />
<path d="M438.8,138.5h1.6v1.6h-1.6zM438.8,142.0h1.6v1.6h-1.6zM438.8,145.5h1.6v1.6h-1.6zM438.8,149.0h1.6v1.6h-1.6zM438.8,152.6h1.6v1.6h-1.6zM438.8,156.1h1.6v1.6h-1.6zM438.8,159.6h1.6v1.6h-1.6zM438.8,163.1h1.6v1.6h-1.6zM438.8,166.6h1.6v1.6h-1.6zM438.8,170.2h1.6v1.6h-1.6zM438.8,173.7h1.6v1.6h-1.6zM438.7,114.1h1.8v1.8h-1.8zM438.7,123.6h1.8v1.8h-1.8zM438.7,129.1h1.8v1.8h-1.8z" fill="#2f8535"/>
<line x1="435.50" y1="166.25" x2="443.70" y2="166.25" stroke="#2c7d30" stroke-width="1.2" />
<rect x="446.30" y="164.50" width="8.20" height="8.00" fill="#95a2d0" />
<line x1="450.40" y1="143.75" x2="450.40" y2="176.25" stroke="#2c5590" stroke-width="1.5" />
<path d="M449.6,144.8h1.6v1.6h-1.6zM449.6,148.4h1.6v1.6h-1.6zM449.6,152.0h1.6v1.6h-1.6zM449.6,155.6h1.6v1.6h-1.6zM449.6,159.2h1.6v1.6h-1.6zM449.6,162.8h1.6v1.6h-1.6zM449.6,166.4h1.6v1.6h-1.6zM449.6,170.0h1.6v1.6h-1.6zM449.6,173.6h1.6v1.6h-1.6zM449.5,136.6h1.8v1.8h-1.8z" fill="#20457c"/>
<line x1="446.30" y1="168.00" x2="454.50" y2="168.00" stroke="#1b3566" stroke-width="1.2" />
<rect x="457.40" y="140.50" width="8.20" height="25.75" fill="#f39a92" />
<line x1="461.50" y1="110.00" x2="461.50" y2="176.25" stroke="#cc2a3c" stroke-width="1.5" />
<path d="M460.7,111.0h1.6v1.6h-1.6zM460.7,114.7h1.6v1.6h-1.6zM460.7,118.4h1.6v1.6h-1.6zM460.7,122.1h1.6v1.6h-1.6zM460.7,125.8h1.6v1.6h-1.6zM460.7,129.4h1.6v1.6h-1.6zM460.7,133.1h1.6v1.6h-1.6zM460.7,136.8h1.6v1.6h-1.6zM460.7,140.5h1.6v1.6h-1.6zM460.7,144.2h1.6v1.6h-1.6zM460.7,147.8h1.6v1.6h-1.6zM460.7,151.5h1.6v1.6h-1.6zM460.7,155.2h1.6v1.6h-1.6zM460.7,158.9h1.6v1.6h-1.6zM460.7,162.6h1.6v1.6h-1.6zM460.7,166.2h1.6v1.6h-1.6zM460.7,169.9h1.6v1.6h-1.6zM460.7,173.6h1.6v1.6h-1.6z" fill="#bb1f36"/>
<line x1="457.40" y1="159.50" x2="465.60" y2="159.50" stroke="#b3122a" stroke-width="1.2" />
<rect x="468.15" y="165.50" width="8.20" height="7.00" fill="#95a2d0" />
<line x1="472.25" y1="151.25" x2="472.25" y2="176.25" stroke="#2c5590" stroke-width="1.5" />
<path d="M471.4,152.2h1.6v1.6h-1.6zM471.4,155.8h1.6v1.6h-1.6zM471.4,159.4h1.6v1.6h-1.6zM471.4,162.9h1.6v1.6h-1.6zM471.4,166.5h1.6v1.6h-1.6zM471.4,170.1h1.6v1.6h-1.6zM471.4,173.7h1.6v1.6h-1.6zM471.4,83.6h1.8v1.8h-1.8zM471.4,114.6h1.8v1.8h-1.8zM471.4,134.1h1.8v1.8h-1.8zM471.4,139.1h1.8v1.8h-1.8z" fill="#20457c"/>
<line x1="468.15" y1="168.75" x2="476.35" y2="168.75" stroke="#1b3566" stroke-width="1.2" />
<rect x="479.30" y="125.00" width="8.20" height="33.00" fill="#f39a92" />
<line x1="483.40" y1="87.00" x2="483.40" y2="176.25" stroke="#cc2a3c" stroke-width="1.5" />
<path d="M482.6,88.0h1.6v1.6h-1.6zM482.6,91.6h1.6v1.6h-1.6zM482.6,95.1h1.6v1.6h-1.6zM482.6,98.7h1.6v1.6h-1.6zM482.6,102.3h1.6v1.6h-1.6zM482.6,105.8h1.6v1.6h-1.6zM482.6,109.4h1.6v1.6h-1.6zM482.6,113.0h1.6v1.6h-1.6zM482.6,116.5h1.6v1.6h-1.6zM482.6,120.1h1.6v1.6h-1.6zM482.6,123.7h1.6v1.6h-1.6zM482.6,127.3h1.6v1.6h-1.6zM482.6,130.8h1.6v1.6h-1.6zM482.6,134.4h1.6v1.6h-1.6zM482.6,138.0h1.6v1.6h-1.6zM482.6,141.5h1.6v1.6h-1.6zM482.6,145.1h1.6v1.6h-1.6zM482.6,148.7h1.6v1.6h-1.6zM482.6,152.2h1.6v1.6h-1.6zM482.6,155.8h1.6v1.6h-1.6zM482.6,159.4h1.6v1.6h-1.6zM482.6,163.0h1.6v1.6h-1.6zM482.6,166.5h1.6v1.6h-1.6zM482.6,170.1h1.6v1.6h-1.6zM482.6,173.7h1.6v1.6h-1.6z" fill="#bb1f36"/>
<line x1="479.30" y1="143.75" x2="487.50" y2="143.75" stroke="#b3122a" stroke-width="1.2" />
<rect x="489.90" y="161.25" width="8.20" height="11.25" fill="#95a2d0" />
<line x1="494.00" y1="150.00" x2="494.00" y2="176.25" stroke="#2c5590" stroke-width="1.5" />
<path d="M493.2,151.1h1.6v1.6h-1.6zM493.2,154.8h1.6v1.6h-1.6zM493.2,158.6h1.6v1.6h-1.6zM493.2,162.3h1.6v1.6h-1.6zM493.2,166.1h1.6v1.6h-1.6zM493.2,169.8h1.6v1.6h-1.6zM493.2,173.6h1.6v1.6h-1.6zM493.1,95.3h1.8v1.8h-1.8zM493.1,123.6h1.8v1.8h-1.8z" fill="#20457c"/>
<line x1="489.90" y1="167.50" x2="498.10" y2="167.50" stroke="#1b3566" stroke-width="1.2" />
<rect x="501.30" y="149.50" width="8.20" height="23.00" fill="#f39a92" />
<line x1="505.40" y1="116.25" x2="505.40" y2="176.25" stroke="#cc2a3c" stroke-width="1.5" />
<path d="M504.6,117.2h1.6v1.6h-1.6zM504.6,120.7h1.6v1.6h-1.6zM504.6,124.3h1.6v1.6h-1.6zM504.6,127.8h1.6v1.6h-1.6zM504.6,131.3h1.6v1.6h-1.6zM504.6,134.9h1.6v1.6h-1.6zM504.6,138.4h1.6v1.6h-1.6zM504.6,141.9h1.6v1.6h-1.6zM504.6,145.4h1.6v1.6h-1.6zM504.6,149.0h1.6v1.6h-1.6zM504.6,152.5h1.6v1.6h-1.6zM504.6,156.0h1.6v1.6h-1.6zM504.6,159.6h1.6v1.6h-1.6zM504.6,163.1h1.6v1.6h-1.6zM504.6,166.6h1.6v1.6h-1.6zM504.6,170.2h1.6v1.6h-1.6zM504.6,173.7h1.6v1.6h-1.6zM504.5,100.1h1.8v1.8h-1.8z" fill="#bb1f36"/>
<line x1="501.30" y1="169.50" x2="509.50" y2="169.50" stroke="#b3122a" stroke-width="1.2" />
<path d="M450.50,79.80 V77.00 H462.00 V79.80" fill="none" stroke="#222" stroke-width="0.9"/>
<text x="456.25" y="77.50" font-size="7.4" text-anchor="middle" font-weight="bold" fill="#222" >****</text>
<path d="M472.50,79.80 V77.00 H483.25 V79.80" fill="none" stroke="#222" stroke-width="0.9"/>
<text x="477.88" y="77.50" font-size="7.4" text-anchor="middle" font-weight="bold" fill="#222" >****</text>
<path d="M494.50,79.80 V77.00 H505.50 V79.80" fill="none" stroke="#222" stroke-width="0.9"/>
<text x="500.00" y="75.20" font-size="8.5" text-anchor="middle" font-weight="normal" fill="#222" >ns</text>
<path d="M450.50,70.60 V67.80 H472.50 V70.60" fill="none" stroke="#222" stroke-width="0.9"/>
<text x="461.50" y="66.00" font-size="8.5" text-anchor="middle" font-weight="normal" fill="#222" >ns</text>
<path d="M462.00,59.60 V56.80 H483.25 V59.60" fill="none" stroke="#222" stroke-width="0.9"/>
<text x="472.62" y="57.30" font-size="7.4" text-anchor="middle" font-weight="bold" fill="#222" >**</text>
<text transform="translate(459.30,187.35) rotate(-45)" x="0" y="0" font-size="10" text-anchor="end" fill="#1a1a1a" stroke="#1a1a1a" stroke-width="0.25" textLength="36.5" lengthAdjust="spacingAndGlyphs">T-replete</text>
<text transform="translate(480.70,187.35) rotate(-45)" x="0" y="0" font-size="10" text-anchor="end" fill="#1a1a1a" stroke="#1a1a1a" stroke-width="0.25" >TCD</text>
<text transform="translate(502.20,187.35) rotate(-45)" x="0" y="0" font-size="10" text-anchor="end" fill="#1a1a1a" stroke="#1a1a1a" stroke-width="0.25" >DUCB</text>
<text x="85.25" y="262.40" font-size="10.2" text-anchor="middle" fill="#1a1a1a">CD56<tspan font-size="7.6" dy="-3.4">dim</tspan><tspan dy="3.4"> NK</tspan></text>
<text transform="translate(18.70,343.50) rotate(-90)" x="0" y="0" font-size="9.6" text-anchor="middle" fill="#1a1a1a" font-weight="bold" stroke="#1a1a1a" stroke-width="0" textLength="99.5" lengthAdjust="spacingAndGlyphs">% CD56<tspan font-size="6.72" dy="-3.4">dim</tspan><tspan dy="3.4"> of CD56+ NK cells</tspan></text>
<line x1="46.25" y1="276.25" x2="46.25" y2="405.20" stroke="#222" stroke-width="1.4" />
<line x1="45.65" y1="404.60" x2="124.00" y2="404.60" stroke="#222" stroke-width="1.4" />
<line x1="43.25" y1="404.25" x2="46.25" y2="404.25" stroke="#222" stroke-width="1.1" />
<text x="40.05" y="406.95" font-size="8.6" text-anchor="end" font-weight="normal" fill="#222" >0</text>
<line x1="43.25" y1="377.44" x2="46.25" y2="377.44" stroke="#222" stroke-width="1.1" />
<text x="40.05" y="380.14" font-size="8.6" text-anchor="end" font-weight="normal" fill="#222" >25</text>
<line x1="43.25" y1="350.62" x2="46.25" y2="350.62" stroke="#222" stroke-width="1.1" />
<text x="40.05" y="353.32" font-size="8.6" text-anchor="end" font-weight="normal" fill="#222" >50</text>
<line x1="43.25" y1="323.81" x2="46.25" y2="323.81" stroke="#222" stroke-width="1.1" />
<text x="40.05" y="326.51" font-size="8.6" text-anchor="end" font-weight="normal" fill="#222" >75</text>
<line x1="43.25" y1="297.00" x2="46.25" y2="297.00" stroke="#222" stroke-width="1.1" />
<text x="40.05" y="299.70" font-size="8.6" text-anchor="end" font-weight="normal" fill="#222" >100</text>
<line x1="69.00" y1="404.60" x2="69.00" y2="407.60" stroke="#222" stroke-width="1" />
<line x1="91.00" y1="404.60" x2="91.00" y2="407.60" stroke="#222" stroke-width="1" />
<line x1="111.60" y1="404.60" x2="111.60" y2="407.60" stroke="#222" stroke-width="1" />
<rect x="47.90" y="307.50" width="8.20" height="22.50" fill="#acdc9d" />
<line x1="52.00" y1="297.50" x2="52.00" y2="358.75" stroke="#3f9a40" stroke-width="1.5" />
<path d="M51.2,298.5h1.6v1.6h-1.6zM51.2,302.1h1.6v1.6h-1.6zM51.2,305.7h1.6v1.6h-1.6zM51.2,309.3h1.6v1.6h-1.6zM51.2,312.9h1.6v1.6h-1.6zM51.2,316.5h1.6v1.6h-1.6zM51.2,320.1h1.6v1.6h-1.6zM51.2,323.7h1.6v1.6h-1.6zM51.2,327.3h1.6v1.6h-1.6zM51.2,330.9h1.6v1.6h-1.6zM51.2,334.5h1.6v1.6h-1.6zM51.2,338.1h1.6v1.6h-1.6zM51.2,341.7h1.6v1.6h-1.6zM51.2,345.3h1.6v1.6h-1.6zM51.2,348.9h1.6v1.6h-1.6zM51.2,352.5h1.6v1.6h-1.6zM51.2,356.1h1.6v1.6h-1.6zM51.1,372.9h1.8v1.8h-1.8z" fill="#2f8535"/>
<line x1="47.90" y1="315.75" x2="56.10" y2="315.75" stroke="#2c7d30" stroke-width="1.2" />
<rect x="58.90" y="315.00" width="8.20" height="30.50" fill="#95a2d0" />
<line x1="63.00" y1="298.00" x2="63.00" y2="375.50" stroke="#2c5590" stroke-width="1.5" />
<path d="M62.2,299.0h1.6v1.6h-1.6zM62.2,302.5h1.6v1.6h-1.6zM62.2,306.0h1.6v1.6h-1.6zM62.2,309.5h1.6v1.6h-1.6zM62.2,313.1h1.6v1.6h-1.6zM62.2,316.6h1.6v1.6h-1.6zM62.2,320.1h1.6v1.6h-1.6zM62.2,323.6h1.6v1.6h-1.6zM62.2,327.1h1.6v1.6h-1.6zM62.2,330.7h1.6v1.6h-1.6zM62.2,334.2h1.6v1.6h-1.6zM62.2,337.7h1.6v1.6h-1.6zM62.2,341.2h1.6v1.6h-1.6zM62.2,344.8h1.6v1.6h-1.6zM62.2,348.3h1.6v1.6h-1.6zM62.2,351.8h1.6v1.6h-1.6zM62.2,355.3h1.6v1.6h-1.6zM62.2,358.8h1.6v1.6h-1.6zM62.2,362.4h1.6v1.6h-1.6zM62.2,365.9h1.6v1.6h-1.6zM62.2,369.4h1.6v1.6h-1.6zM62.2,372.9h1.6v1.6h-1.6z" fill="#20457c"/>
<line x1="58.90" y1="329.25" x2="67.10" y2="329.25" stroke="#1b3566" stroke-width="1.2" />
<rect x="69.80" y="308.25" width="8.20" height="20.50" fill="#f39a92" />
<line x1="73.90" y1="297.00" x2="73.90" y2="357.00" stroke="#cc2a3c" stroke-width="1.5" />
<path d="M73.1,298.0h1.6v1.6h-1.6zM73.1,301.5h1.6v1.6h-1.6zM73.1,305.0h1.6v1.6h-1.6zM73.1,308.6h1.6v1.6h-1.6zM73.1,312.1h1.6v1.6h-1.6zM73.1,315.6h1.6v1.6h-1.6zM73.1,319.1h1.6v1.6h-1.6zM73.1,322.7h1.6v1.6h-1.6zM73.1,326.2h1.6v1.6h-1.6zM73.1,329.7h1.6v1.6h-1.6zM73.1,333.3h1.6v1.6h-1.6zM73.1,336.8h1.6v1.6h-1.6zM73.1,340.3h1.6v1.6h-1.6zM73.1,343.8h1.6v1.6h-1.6zM73.1,347.4h1.6v1.6h-1.6zM73.1,350.9h1.6v1.6h-1.6zM73.1,354.4h1.6v1.6h-1.6zM73.0,361.6h1.8v1.8h-1.8zM73.0,371.6h1.8v1.8h-1.8zM73.0,378.6h1.8v1.8h-1.8z" fill="#bb1f36"/>
<line x1="69.80" y1="315.75" x2="78.00" y2="315.75" stroke="#b3122a" stroke-width="1.2" />
<rect x="80.50" y="324.50" width="8.20" height="31.75" fill="#95a2d0" />
<line x1="84.60" y1="299.50" x2="84.60" y2="388.75" stroke="#2c5590" stroke-width="1.5" />
<path d="M83.8,300.5h1.6v1.6h-1.6zM83.8,304.1h1.6v1.6h-1.6zM83.8,307.6h1.6v1.6h-1.6zM83.8,311.2h1.6v1.6h-1.6zM83.8,314.8h1.6v1.6h-1.6zM83.8,318.3h1.6v1.6h-1.6zM83.8,321.9h1.6v1.6h-1.6zM83.8,325.5h1.6v1.6h-1.6zM83.8,329.0h1.6v1.6h-1.6zM83.8,332.6h1.6v1.6h-1.6zM83.8,336.2h1.6v1.6h-1.6zM83.8,339.8h1.6v1.6h-1.6zM83.8,343.3h1.6v1.6h-1.6zM83.8,346.9h1.6v1.6h-1.6zM83.8,350.5h1.6v1.6h-1.6zM83.8,354.0h1.6v1.6h-1.6zM83.8,357.6h1.6v1.6h-1.6zM83.8,361.2h1.6v1.6h-1.6zM83.8,364.7h1.6v1.6h-1.6zM83.8,368.3h1.6v1.6h-1.6zM83.8,371.9h1.6v1.6h-1.6zM83.8,375.5h1.6v1.6h-1.6zM83.8,379.0h1.6v1.6h-1.6zM83.8,382.6h1.6v1.6h-1.6zM83.8,386.2h1.6v1.6h-1.6z" fill="#20457c"/>
<line x1="80.50" y1="342.00" x2="88.70" y2="342.00" stroke="#1b3566" stroke-width="1.2" />
<rect x="91.10" y="310.50" width="8.20" height="25.75" fill="#f39a92" />
<line x1="95.20" y1="298.75" x2="95.20" y2="374.50" stroke="#cc2a3c" stroke-width="1.5" />
<path d="M94.4,299.8h1.6v1.6h-1.6zM94.4,303.4h1.6v1.6h-1.6zM94.4,307.0h1.6v1.6h-1.6zM94.4,310.6h1.6v1.6h-1.6zM94.4,314.2h1.6v1.6h-1.6zM94.4,317.8h1.6v1.6h-1.6zM94.4,321.4h1.6v1.6h-1.6zM94.4,325.0h1.6v1.6h-1.6zM94.4,328.6h1.6v1.6h-1.6zM94.4,332.2h1.6v1.6h-1.6zM94.4,335.8h1.6v1.6h-1.6zM94.4,339.4h1.6v1.6h-1.6zM94.4,343.0h1.6v1.6h-1.6zM94.4,346.6h1.6v1.6h-1.6zM94.4,350.3h1.6v1.6h-1.6zM94.4,353.9h1.6v1.6h-1.6zM94.4,357.5h1.6v1.6h-1.6zM94.4,361.1h1.6v1.6h-1.6zM94.4,364.7h1.6v1.6h-1.6zM94.4,368.3h1.6v1.6h-1.6zM94.4,371.9h1.6v1.6h-1.6z" fill="#bb1f36"/>
<line x1="91.10" y1="320.50" x2="99.30" y2="320.50" stroke="#b3122a" stroke-width="1.2" />
<rect x="102.30" y="337.00" width="8.20" height="32.50" fill="#95a2d0" />
<line x1="106.40" y1="309.50" x2="106.40" y2="395.50" stroke="#2c5590" stroke-width="1.5" />
<path d="M105.6,310.5h1.6v1.6h-1.6zM105.6,314.1h1.6v1.6h-1.6zM105.6,317.7h1.6v1.6h-1.6zM105.6,321.2h1.6v1.6h-1.6zM105.6,324.8h1.6v1.6h-1.6zM105.6,328.4h1.6v1.6h-1.6zM105.6,332.0h1.6v1.6h-1.6zM105.6,335.6h1.6v1.6h-1.6zM105.6,339.2h1.6v1.6h-1.6zM105.6,342.7h1.6v1.6h-1.6zM105.6,346.3h1.6v1.6h-1.6zM105.6,349.9h1.6v1.6h-1.6zM105.6,353.5h1.6v1.6h-1.6zM105.6,357.1h1.6v1.6h-1.6zM105.6,360.7h1.6v1.6h-1.6zM105.6,364.2h1.6v1.6h-1.6zM105.6,367.8h1.6v1.6h-1.6zM105.6,371.4h1.6v1.6h-1.6zM105.6,375.0h1.6v1.6h-1.6zM105.6,378.6h1.6v1.6h-1.6zM105.6,382.2h1.6v1.6h-1.6zM105.6,385.7h1.6v1.6h-1.6zM105.6,389.3h1.6v1.6h-1.6zM105.6,392.9h1.6v1.6h-1.6z" fill="#20457c"/>
<line x1="102.30" y1="347.50" x2="110.50" y2="347.50" stroke="#1b3566" stroke-width="1.2" />
<rect x="113.00" y="329.50" width="8.20" height="29.00" fill="#f39a92" />
<line x1="117.10" y1="302.50" x2="117.10" y2="381.25" stroke="#cc2a3c" stroke-width="1.5" />
<path d="M116.3,303.5h1.6v1.6h-1.6zM116.3,307.1h1.6v1.6h-1.6zM116.3,310.6h1.6v1.6h-1.6zM116.3,314.2h1.6v1.6h-1.6zM116.3,317.8h1.6v1.6h-1.6zM116.3,321.4h1.6v1.6h-1.6zM116.3,325.0h1.6v1.6h-1.6zM116.3,328.5h1.6v1.6h-1.6zM116.3,332.1h1.6v1.6h-1.6zM116.3,335.7h1.6v1.6h-1.6zM116.3,339.3h1.6v1.6h-1.6zM116.3,342.9h1.6v1.6h-1.6zM116.3,346.4h1.6v1.6h-1.6zM116.3,350.0h1.6v1.6h-1.6zM116.3,353.6h1.6v1.6h-1.6zM116.3,357.2h1.6v1.6h-1.6zM116.3,360.8h1.6v1.6h-1.6zM116.3,364.3h1.6v1.6h-1.6zM116.3,367.9h1.6v1.6h-1.6zM116.3,371.5h1.6v1.6h-1.6zM116.3,375.1h1.6v1.6h-1.6zM116.3,378.7h1.6v1.6h-1.6z" fill="#bb1f36"/>
<line x1="113.00" y1="347.50" x2="121.20" y2="347.50" stroke="#b3122a" stroke-width="1.2" />
<path d="M62.50,296.55 V293.75 H73.75 V296.55" fill="none" stroke="#222" stroke-width="0.9"/>
<text x="68.12" y="294.25" font-size="7.4" text-anchor="middle" font-weight="bold" fill="#222" >*</text>
<path d="M85.00,296.55 V293.75 H96.25 V296.55" fill="none" stroke="#222" stroke-width="0.9"/>
<text x="90.62" y="294.25" font-size="7.4" text-anchor="middle" font-weight="bold" fill="#222" >****</text>
<path d="M106.25,296.55 V293.75 H117.00 V296.55" fill="none" stroke="#222" stroke-width="0.9"/>
<text x="111.62" y="291.95" font-size="8.5" text-anchor="middle" font-weight="normal" fill="#222" >ns</text>
<path d="M74.25,286.55 V283.75 H96.25 V286.55" fill="none" stroke="#222" stroke-width="0.9"/>
<text x="85.25" y="281.95" font-size="8.5" text-anchor="middle" font-weight="normal" fill="#222" >ns</text>
<path d="M74.25,274.05 V271.25 H117.00 V274.05" fill="none" stroke="#222" stroke-width="0.9"/>
<text x="95.62" y="271.75" font-size="7.4" text-anchor="middle" font-weight="bold" fill="#222" >****</text>
<text transform="translate(72.10,415.35) rotate(-45)" x="0" y="0" font-size="10" text-anchor="end" fill="#1a1a1a" stroke="#1a1a1a" stroke-width="0.25" textLength="36.5" lengthAdjust="spacingAndGlyphs">T-replete</text>
<text transform="translate(94.70,415.35) rotate(-45)" x="0" y="0" font-size="10" text-anchor="end" fill="#1a1a1a" stroke="#1a1a1a" stroke-width="0.25" >TCD</text>
<text transform="translate(115.50,415.35) rotate(-45)" x="0" y="0" font-size="10" text-anchor="end" fill="#1a1a1a" stroke="#1a1a1a" stroke-width="0.25" >DUCB</text>
<text x="214.80" y="262.90" font-size="10.2" text-anchor="middle" fill="#1a1a1a">CD56<tspan font-size="7.6" dy="-3.4">bright</tspan><tspan dy="3.4"> NK</tspan></text>
<text transform="translate(148.70,340.80) rotate(-90)" x="0" y="0" font-size="9.6" text-anchor="middle" fill="#1a1a1a" font-weight="bold" stroke="#1a1a1a" stroke-width="0" textLength="68" lengthAdjust="spacingAndGlyphs">%NKG2A SP NK cells</text>
<line x1="175.25" y1="276.25" x2="175.25" y2="405.10" stroke="#222" stroke-width="1.4" />
<line x1="174.65" y1="404.50" x2="255.00" y2="404.50" stroke="#222" stroke-width="1.4" />
<line x1="172.25" y1="404.50" x2="175.25" y2="404.50" stroke="#222" stroke-width="1.1" />
<text x="169.05" y="407.20" font-size="8.6" text-anchor="end" font-weight="normal" fill="#222" >0</text>
<line x1="172.25" y1="382.20" x2="175.25" y2="382.20" stroke="#222" stroke-width="1.1" />
<text x="169.05" y="384.90" font-size="8.6" text-anchor="end" font-weight="normal" fill="#222" >20</text>
<line x1="172.25" y1="359.90" x2="175.25" y2="359.90" stroke="#222" stroke-width="1.1" />
<text x="169.05" y="362.60" font-size="8.6" text-anchor="end" font-weight="normal" fill="#222" >40</text>
<line x1="172.25" y1="337.60" x2="175.25" y2="337.60" stroke="#222" stroke-width="1.1" />
<text x="169.05" y="340.30" font-size="8.6" text-anchor="end" font-weight="normal" fill="#222" >60</text>
<line x1="172.25" y1="315.30" x2="175.25" y2="315.30" stroke="#222" stroke-width="1.1" />
<text x="169.05" y="318.00" font-size="8.6" text-anchor="end" font-weight="normal" fill="#222" >80</text>
<line x1="172.25" y1="293.00" x2="175.25" y2="293.00" stroke="#222" stroke-width="1.1" />
<text x="169.05" y="295.70" font-size="8.6" text-anchor="end" font-weight="normal" fill="#222" >100</text>
<line x1="199.50" y1="404.50" x2="199.50" y2="407.50" stroke="#222" stroke-width="1" />
<line x1="221.25" y1="404.50" x2="221.25" y2="407.50" stroke="#222" stroke-width="1" />
<line x1="242.50" y1="404.50" x2="242.50" y2="407.50" stroke="#222" stroke-width="1" />
<rect x="177.90" y="302.50" width="8.20" height="15.50" fill="#acdc9d" />
<line x1="182.00" y1="293.00" x2="182.00" y2="340.00" stroke="#3f9a40" stroke-width="1.5" />
<path d="M181.2,294.0h1.6v1.6h-1.6zM181.2,297.6h1.6v1.6h-1.6zM181.2,301.2h1.6v1.6h-1.6zM181.2,304.9h1.6v1.6h-1.6zM181.2,308.5h1.6v1.6h-1.6zM181.2,312.1h1.6v1.6h-1.6zM181.2,315.7h1.6v1.6h-1.6zM181.2,319.3h1.6v1.6h-1.6zM181.2,322.9h1.6v1.6h-1.6zM181.2,326.5h1.6v1.6h-1.6zM181.2,330.2h1.6v1.6h-1.6zM181.2,333.8h1.6v1.6h-1.6zM181.2,337.4h1.6v1.6h-1.6zM181.1,342.9h1.8v1.8h-1.8zM181.1,346.1h1.8v1.8h-1.8zM181.1,349.1h1.8v1.8h-1.8zM181.1,356.6h1.8v1.8h-1.8z" fill="#2f8535"/>
<line x1="177.90" y1="309.50" x2="186.10" y2="309.50" stroke="#2c7d30" stroke-width="1.2" />
<rect x="188.50" y="302.00" width="8.20" height="7.50" fill="#95a2d0" />
<line x1="192.60" y1="296.25" x2="192.60" y2="318.75" stroke="#2c5590" stroke-width="1.5" />
<path d="M191.8,297.3h1.6v1.6h-1.6zM191.8,301.1h1.6v1.6h-1.6zM191.8,304.8h1.6v1.6h-1.6zM191.8,308.6h1.6v1.6h-1.6zM191.8,312.3h1.6v1.6h-1.6zM191.8,316.1h1.6v1.6h-1.6zM191.7,329.1h1.8v1.8h-1.8z" fill="#20457c"/>
<line x1="188.50" y1="305.75" x2="196.70" y2="305.75" stroke="#1b3566" stroke-width="1.2" />
<rect x="199.65" y="305.00" width="8.20" height="7.50" fill="#f39a92" />
<line x1="203.75" y1="293.75" x2="203.75" y2="326.00" stroke="#cc2a3c" stroke-width="1.5" />
<path d="M202.9,294.7h1.6v1.6h-1.6zM202.9,298.3h1.6v1.6h-1.6zM202.9,301.9h1.6v1.6h-1.6zM202.9,305.5h1.6v1.6h-1.6zM202.9,309.1h1.6v1.6h-1.6zM202.9,312.7h1.6v1.6h-1.6zM202.9,316.2h1.6v1.6h-1.6zM202.9,319.8h1.6v1.6h-1.6zM202.9,323.4h1.6v1.6h-1.6zM202.8,329.1h1.8v1.8h-1.8zM202.8,332.9h1.8v1.8h-1.8z" fill="#bb1f36"/>
<line x1="199.65" y1="308.75" x2="207.85" y2="308.75" stroke="#b3122a" stroke-width="1.2" />
<rect x="210.50" y="301.25" width="8.20" height="8.75" fill="#95a2d0" />
<line x1="214.60" y1="294.50" x2="214.60" y2="314.50" stroke="#2c5590" stroke-width="1.5" />
<path d="M213.8,295.7h1.6v1.6h-1.6zM213.8,299.7h1.6v1.6h-1.6zM213.8,303.7h1.6v1.6h-1.6zM213.8,307.7h1.6v1.6h-1.6zM213.8,311.7h1.6v1.6h-1.6z" fill="#20457c"/>
<line x1="210.50" y1="306.25" x2="218.70" y2="306.25" stroke="#1b3566" stroke-width="1.2" />
<rect x="222.20" y="305.00" width="8.20" height="7.00" fill="#f39a92" />
<line x1="226.30" y1="293.00" x2="226.30" y2="321.25" stroke="#cc2a3c" stroke-width="1.5" />
<path d="M225.5,294.0h1.6v1.6h-1.6zM225.5,297.5h1.6v1.6h-1.6zM225.5,301.0h1.6v1.6h-1.6zM225.5,304.6h1.6v1.6h-1.6zM225.5,308.1h1.6v1.6h-1.6zM225.5,311.6h1.6v1.6h-1.6zM225.5,315.2h1.6v1.6h-1.6zM225.5,318.7h1.6v1.6h-1.6zM225.4,324.6h1.8v1.8h-1.8zM225.4,328.6h1.8v1.8h-1.8z" fill="#bb1f36"/>
<line x1="222.20" y1="308.75" x2="230.40" y2="308.75" stroke="#b3122a" stroke-width="1.2" />
<rect x="233.00" y="300.50" width="8.20" height="4.50" fill="#95a2d0" />
<line x1="237.10" y1="295.00" x2="237.10" y2="316.25" stroke="#2c5590" stroke-width="1.5" />
<path d="M236.3,296.0h1.6v1.6h-1.6zM236.3,299.5h1.6v1.6h-1.6zM236.3,303.1h1.6v1.6h-1.6zM236.3,306.6h1.6v1.6h-1.6zM236.3,310.1h1.6v1.6h-1.6zM236.3,313.7h1.6v1.6h-1.6z" fill="#20457c"/>
<line x1="233.00" y1="303.25" x2="241.20" y2="303.25" stroke="#1b3566" stroke-width="1.2" />
<rect x="244.80" y="301.25" width="8.20" height="11.75" fill="#f39a92" />
<line x1="248.90" y1="293.00" x2="248.90" y2="330.00" stroke="#cc2a3c" stroke-width="1.5" />
<path d="M248.1,294.1h1.6v1.6h-1.6zM248.1,297.8h1.6v1.6h-1.6zM248.1,301.4h1.6v1.6h-1.6zM248.1,305.1h1.6v1.6h-1.6zM248.1,308.8h1.6v1.6h-1.6zM248.1,312.6h1.6v1.6h-1.6zM248.1,316.2h1.6v1.6h-1.6zM248.1,319.9h1.6v1.6h-1.6zM248.1,323.6h1.6v1.6h-1.6zM248.1,327.3h1.6v1.6h-1.6zM248.0,331.6h1.8v1.8h-1.8z" fill="#bb1f36"/>
<line x1="244.80" y1="308.00" x2="253.00" y2="308.00" stroke="#b3122a" stroke-width="1.2" />
<path d="M192.50,292.70 V289.90 H203.75 V292.70" fill="none" stroke="#222" stroke-width="0.9"/>
<text x="198.12" y="288.10" font-size="8.5" text-anchor="middle" font-weight="normal" fill="#222" >ns</text>
<path d="M214.50,292.70 V289.90 H226.25 V292.70" fill="none" stroke="#222" stroke-width="0.9"/>
<text x="220.38" y="290.40" font-size="7.4" text-anchor="middle" font-weight="bold" fill="#222" >**</text>
<path d="M237.00,292.70 V289.90 H248.75 V292.70" fill="none" stroke="#222" stroke-width="0.9"/>
<text x="242.88" y="290.40" font-size="7.4" text-anchor="middle" font-weight="bold" fill="#222" >*</text>
<text transform="translate(202.40,415.60) rotate(-45)" x="0" y="0" font-size="10" text-anchor="end" fill="#1a1a1a" stroke="#1a1a1a" stroke-width="0.25" textLength="36.5" lengthAdjust="spacingAndGlyphs">T-replete</text>
<text transform="translate(224.15,415.60) rotate(-45)" x="0" y="0" font-size="10" text-anchor="end" fill="#1a1a1a" stroke="#1a1a1a" stroke-width="0.25" >TCD</text>
<text transform="translate(245.40,415.60) rotate(-45)" x="0" y="0" font-size="10" text-anchor="end" fill="#1a1a1a" stroke="#1a1a1a" stroke-width="0.25" >DUCB</text>
<text x="345.50" y="262.40" font-size="10.2" text-anchor="middle" fill="#1a1a1a">CD56<tspan font-size="7.6" dy="-3.4">dim</tspan><tspan dy="3.4"> NK</tspan></text>
<line x1="306.25" y1="276.25" x2="306.25" y2="405.10" stroke="#222" stroke-width="1.4" />
<line x1="305.65" y1="404.50" x2="386.00" y2="404.50" stroke="#222" stroke-width="1.4" />
<line x1="303.25" y1="404.50" x2="306.25" y2="404.50" stroke="#222" stroke-width="1.1" />
<text x="300.05" y="407.20" font-size="8.6" text-anchor="end" font-weight="normal" fill="#222" >0</text>
<line x1="303.25" y1="382.20" x2="306.25" y2="382.20" stroke="#222" stroke-width="1.1" />
<text x="300.05" y="384.90" font-size="8.6" text-anchor="end" font-weight="normal" fill="#222" >20</text>
<line x1="303.25" y1="359.90" x2="306.25" y2="359.90" stroke="#222" stroke-width="1.1" />
<text x="300.05" y="362.60" font-size="8.6" text-anchor="end" font-weight="normal" fill="#222" >40</text>
<line x1="303.25" y1="337.60" x2="306.25" y2="337.60" stroke="#222" stroke-width="1.1" />
<text x="300.05" y="340.30" font-size="8.6" text-anchor="end" font-weight="normal" fill="#222" >60</text>
<line x1="303.25" y1="315.30" x2="306.25" y2="315.30" stroke="#222" stroke-width="1.1" />
<text x="300.05" y="318.00" font-size="8.6" text-anchor="end" font-weight="normal" fill="#222" >80</text>
<line x1="303.25" y1="293.00" x2="306.25" y2="293.00" stroke="#222" stroke-width="1.1" />
<text x="300.05" y="295.70" font-size="8.6" text-anchor="end" font-weight="normal" fill="#222" >100</text>
<line x1="329.40" y1="404.50" x2="329.40" y2="407.50" stroke="#222" stroke-width="1" />
<line x1="351.60" y1="404.50" x2="351.60" y2="407.50" stroke="#222" stroke-width="1" />
<line x1="372.60" y1="404.50" x2="372.60" y2="407.50" stroke="#222" stroke-width="1" />
<rect x="308.65" y="318.00" width="8.20" height="30.00" fill="#acdc9d" />
<line x1="312.75" y1="296.25" x2="312.75" y2="400.00" stroke="#3f9a40" stroke-width="1.5" />
<path d="M311.9,297.2h1.6v1.6h-1.6zM311.9,300.8h1.6v1.6h-1.6zM311.9,304.4h1.6v1.6h-1.6zM311.9,308.0h1.6v1.6h-1.6zM311.9,311.5h1.6v1.6h-1.6zM311.9,315.1h1.6v1.6h-1.6zM311.9,318.7h1.6v1.6h-1.6zM311.9,322.3h1.6v1.6h-1.6zM311.9,325.9h1.6v1.6h-1.6zM311.9,329.4h1.6v1.6h-1.6zM311.9,333.0h1.6v1.6h-1.6zM311.9,336.6h1.6v1.6h-1.6zM311.9,340.2h1.6v1.6h-1.6zM311.9,343.7h1.6v1.6h-1.6zM311.9,347.3h1.6v1.6h-1.6zM311.9,350.9h1.6v1.6h-1.6zM311.9,354.5h1.6v1.6h-1.6zM311.9,358.1h1.6v1.6h-1.6zM311.9,361.6h1.6v1.6h-1.6zM311.9,365.2h1.6v1.6h-1.6zM311.9,368.8h1.6v1.6h-1.6zM311.9,372.4h1.6v1.6h-1.6zM311.9,375.9h1.6v1.6h-1.6zM311.9,379.5h1.6v1.6h-1.6zM311.9,383.1h1.6v1.6h-1.6zM311.9,386.7h1.6v1.6h-1.6zM311.9,390.3h1.6v1.6h-1.6zM311.9,393.8h1.6v1.6h-1.6zM311.9,397.4h1.6v1.6h-1.6z" fill="#2f8535"/>
<line x1="308.65" y1="328.75" x2="316.85" y2="328.75" stroke="#2c7d30" stroke-width="1.2" />
<rect x="319.90" y="320.00" width="8.20" height="22.50" fill="#95a2d0" />
<line x1="324.00" y1="307.00" x2="324.00" y2="372.50" stroke="#2c5590" stroke-width="1.5" />
<path d="M323.2,308.0h1.6v1.6h-1.6zM323.2,311.7h1.6v1.6h-1.6zM323.2,315.3h1.6v1.6h-1.6zM323.2,318.9h1.6v1.6h-1.6zM323.2,322.6h1.6v1.6h-1.6zM323.2,326.2h1.6v1.6h-1.6zM323.2,329.9h1.6v1.6h-1.6zM323.2,333.5h1.6v1.6h-1.6zM323.2,337.1h1.6v1.6h-1.6zM323.2,340.8h1.6v1.6h-1.6zM323.2,344.4h1.6v1.6h-1.6zM323.2,348.0h1.6v1.6h-1.6zM323.2,351.7h1.6v1.6h-1.6zM323.2,355.3h1.6v1.6h-1.6zM323.2,359.0h1.6v1.6h-1.6zM323.2,362.6h1.6v1.6h-1.6zM323.2,366.2h1.6v1.6h-1.6zM323.2,369.9h1.6v1.6h-1.6zM323.1,383.6h1.8v1.8h-1.8z" fill="#20457c"/>
<line x1="319.90" y1="327.00" x2="328.10" y2="327.00" stroke="#1b3566" stroke-width="1.2" />
<rect x="330.65" y="348.00" width="8.20" height="23.25" fill="#f39a92" />
<line x1="334.75" y1="321.25" x2="334.75" y2="397.50" stroke="#cc2a3c" stroke-width="1.5" />
<path d="M333.9,322.3h1.6v1.6h-1.6zM333.9,325.9h1.6v1.6h-1.6zM333.9,329.5h1.6v1.6h-1.6zM333.9,333.2h1.6v1.6h-1.6zM333.9,336.8h1.6v1.6h-1.6zM333.9,340.4h1.6v1.6h-1.6zM333.9,344.1h1.6v1.6h-1.6zM333.9,347.7h1.6v1.6h-1.6zM333.9,351.3h1.6v1.6h-1.6zM333.9,354.9h1.6v1.6h-1.6zM333.9,358.6h1.6v1.6h-1.6zM333.9,362.2h1.6v1.6h-1.6zM333.9,365.8h1.6v1.6h-1.6zM333.9,369.5h1.6v1.6h-1.6zM333.9,373.1h1.6v1.6h-1.6zM333.9,376.7h1.6v1.6h-1.6zM333.9,380.4h1.6v1.6h-1.6zM333.9,384.0h1.6v1.6h-1.6zM333.9,387.6h1.6v1.6h-1.6zM333.9,391.3h1.6v1.6h-1.6zM333.9,394.9h1.6v1.6h-1.6zM333.9,307.1h1.8v1.8h-1.8z" fill="#bb1f36"/>
<line x1="330.65" y1="356.25" x2="338.85" y2="356.25" stroke="#b3122a" stroke-width="1.2" />
<rect x="341.90" y="312.00" width="8.20" height="25.00" fill="#95a2d0" />
<line x1="346.00" y1="291.25" x2="346.00" y2="365.00" stroke="#2c5590" stroke-width="1.5" />
<path d="M345.2,292.2h1.6v1.6h-1.6zM345.2,295.7h1.6v1.6h-1.6zM345.2,299.2h1.6v1.6h-1.6zM345.2,302.7h1.6v1.6h-1.6zM345.2,306.3h1.6v1.6h-1.6zM345.2,309.8h1.6v1.6h-1.6zM345.2,313.3h1.6v1.6h-1.6zM345.2,316.8h1.6v1.6h-1.6zM345.2,320.3h1.6v1.6h-1.6zM345.2,323.8h1.6v1.6h-1.6zM345.2,327.3h1.6v1.6h-1.6zM345.2,330.8h1.6v1.6h-1.6zM345.2,334.3h1.6v1.6h-1.6zM345.2,337.9h1.6v1.6h-1.6zM345.2,341.4h1.6v1.6h-1.6zM345.2,344.9h1.6v1.6h-1.6zM345.2,348.4h1.6v1.6h-1.6zM345.2,351.9h1.6v1.6h-1.6zM345.2,355.4h1.6v1.6h-1.6zM345.2,358.9h1.6v1.6h-1.6zM345.2,362.4h1.6v1.6h-1.6zM345.1,377.9h1.8v1.8h-1.8z" fill="#20457c"/>
<line x1="341.90" y1="323.25" x2="350.10" y2="323.25" stroke="#1b3566" stroke-width="1.2" />
<rect x="353.15" y="355.00" width="8.20" height="28.00" fill="#f39a92" />
<line x1="357.25" y1="322.50" x2="357.25" y2="398.75" stroke="#cc2a3c" stroke-width="1.5" />
<path d="M356.4,323.5h1.6v1.6h-1.6zM356.4,327.1h1.6v1.6h-1.6zM356.4,330.8h1.6v1.6h-1.6zM356.4,334.4h1.6v1.6h-1.6zM356.4,338.0h1.6v1.6h-1.6zM356.4,341.7h1.6v1.6h-1.6zM356.4,345.3h1.6v1.6h-1.6zM356.4,348.9h1.6v1.6h-1.6zM356.4,352.6h1.6v1.6h-1.6zM356.4,356.2h1.6v1.6h-1.6zM356.4,359.8h1.6v1.6h-1.6zM356.4,363.5h1.6v1.6h-1.6zM356.4,367.1h1.6v1.6h-1.6zM356.4,370.7h1.6v1.6h-1.6zM356.4,374.3h1.6v1.6h-1.6zM356.4,378.0h1.6v1.6h-1.6zM356.4,381.6h1.6v1.6h-1.6zM356.4,385.2h1.6v1.6h-1.6zM356.4,388.9h1.6v1.6h-1.6zM356.4,392.5h1.6v1.6h-1.6zM356.4,396.1h1.6v1.6h-1.6zM356.4,306.1h1.8v1.8h-1.8z" fill="#bb1f36"/>
<line x1="353.15" y1="376.25" x2="361.35" y2="376.25" stroke="#b3122a" stroke-width="1.2" />
<rect x="364.40" y="313.00" width="8.20" height="19.00" fill="#95a2d0" />
<line x1="368.50" y1="301.25" x2="368.50" y2="343.75" stroke="#2c5590" stroke-width="1.5" />
<path d="M367.7,302.2h1.6v1.6h-1.6zM367.7,305.8h1.6v1.6h-1.6zM367.7,309.3h1.6v1.6h-1.6zM367.7,312.8h1.6v1.6h-1.6zM367.7,316.4h1.6v1.6h-1.6zM367.7,319.9h1.6v1.6h-1.6zM367.7,323.5h1.6v1.6h-1.6zM367.7,327.0h1.6v1.6h-1.6zM367.7,330.6h1.6v1.6h-1.6zM367.7,334.1h1.6v1.6h-1.6zM367.7,337.6h1.6v1.6h-1.6zM367.7,341.2h1.6v1.6h-1.6zM367.6,367.9h1.8v1.8h-1.8zM367.6,371.6h1.8v1.8h-1.8zM367.6,387.1h1.8v1.8h-1.8z" fill="#20457c"/>
<line x1="364.40" y1="325.50" x2="372.60" y2="325.50" stroke="#1b3566" stroke-width="1.2" />
<rect x="375.50" y="318.75" width="8.20" height="43.75" fill="#f39a92" />
<line x1="379.60" y1="304.50" x2="379.60" y2="392.50" stroke="#cc2a3c" stroke-width="1.5" />
<path d="M378.8,305.5h1.6v1.6h-1.6zM378.8,309.0h1.6v1.6h-1.6zM378.8,312.5h1.6v1.6h-1.6zM378.8,316.0h1.6v1.6h-1.6zM378.8,319.5h1.6v1.6h-1.6zM378.8,323.1h1.6v1.6h-1.6zM378.8,326.6h1.6v1.6h-1.6zM378.8,330.1h1.6v1.6h-1.6zM378.8,333.6h1.6v1.6h-1.6zM378.8,337.1h1.6v1.6h-1.6zM378.8,340.7h1.6v1.6h-1.6zM378.8,344.2h1.6v1.6h-1.6zM378.8,347.7h1.6v1.6h-1.6zM378.8,351.2h1.6v1.6h-1.6zM378.8,354.7h1.6v1.6h-1.6zM378.8,358.3h1.6v1.6h-1.6zM378.8,361.8h1.6v1.6h-1.6zM378.8,365.3h1.6v1.6h-1.6zM378.8,368.8h1.6v1.6h-1.6zM378.8,372.3h1.6v1.6h-1.6zM378.8,375.9h1.6v1.6h-1.6zM378.8,379.4h1.6v1.6h-1.6zM378.8,382.9h1.6v1.6h-1.6zM378.8,386.4h1.6v1.6h-1.6zM378.8,389.9h1.6v1.6h-1.6z" fill="#bb1f36"/>
<line x1="375.50" y1="341.25" x2="383.70" y2="341.25" stroke="#b3122a" stroke-width="1.2" />
<path d="M323.75,293.30 V290.50 H335.00 V293.30" fill="none" stroke="#222" stroke-width="0.9"/>
<text x="329.38" y="291.00" font-size="7.4" text-anchor="middle" font-weight="bold" fill="#222" >****</text>
<path d="M346.25,293.30 V290.50 H357.50 V293.30" fill="none" stroke="#222" stroke-width="0.9"/>
<text x="351.88" y="291.00" font-size="7.4" text-anchor="middle" font-weight="bold" fill="#222" >****</text>
<path d="M368.75,293.30 V290.50 H379.50 V293.30" fill="none" stroke="#222" stroke-width="0.9"/>
<text x="374.12" y="291.00" font-size="7.4" text-anchor="middle" font-weight="bold" fill="#222" >*</text>
<path d="M323.75,280.80 V278.00 H346.25 V280.80" fill="none" stroke="#222" stroke-width="0.9"/>
<text x="335.00" y="276.20" font-size="8.5" text-anchor="middle" font-weight="normal" fill="#222" >ns</text>
<text transform="translate(332.30,415.60) rotate(-45)" x="0" y="0" font-size="10" text-anchor="end" fill="#1a1a1a" stroke="#1a1a1a" stroke-width="0.25" textLength="36.5" lengthAdjust="spacingAndGlyphs">T-replete</text>
<text transform="translate(354.50,415.60) rotate(-45)" x="0" y="0" font-size="10" text-anchor="end" fill="#1a1a1a" stroke="#1a1a1a" stroke-width="0.25" >TCD</text>
<text transform="translate(375.30,415.60) rotate(-45)" x="0" y="0" font-size="10" text-anchor="end" fill="#1a1a1a" stroke="#1a1a1a" stroke-width="0.25" >DUCB</text>
<text x="472.25" y="262.40" font-size="10.2" text-anchor="middle" fill="#1a1a1a">CD56<tspan font-size="7.6" dy="-3.4">neg</tspan><tspan dy="3.4"> NK</tspan></text>
<line x1="433.00" y1="277.00" x2="433.00" y2="405.10" stroke="#222" stroke-width="1.4" />
<line x1="432.40" y1="404.50" x2="513.00" y2="404.50" stroke="#222" stroke-width="1.4" />
<line x1="430.00" y1="404.50" x2="433.00" y2="404.50" stroke="#222" stroke-width="1.1" />
<text x="426.80" y="407.20" font-size="8.6" text-anchor="end" font-weight="normal" fill="#222" >0</text>
<line x1="430.00" y1="382.20" x2="433.00" y2="382.20" stroke="#222" stroke-width="1.1" />
<text x="426.80" y="384.90" font-size="8.6" text-anchor="end" font-weight="normal" fill="#222" >20</text>
<line x1="430.00" y1="359.90" x2="433.00" y2="359.90" stroke="#222" stroke-width="1.1" />
<text x="426.80" y="362.60" font-size="8.6" text-anchor="end" font-weight="normal" fill="#222" >40</text>
<line x1="430.00" y1="337.60" x2="433.00" y2="337.60" stroke="#222" stroke-width="1.1" />
<text x="426.80" y="340.30" font-size="8.6" text-anchor="end" font-weight="normal" fill="#222" >60</text>
<line x1="430.00" y1="315.30" x2="433.00" y2="315.30" stroke="#222" stroke-width="1.1" />
<text x="426.80" y="318.00" font-size="8.6" text-anchor="end" font-weight="normal" fill="#222" >80</text>
<line x1="430.00" y1="293.00" x2="433.00" y2="293.00" stroke="#222" stroke-width="1.1" />
<text x="426.80" y="295.70" font-size="8.6" text-anchor="end" font-weight="normal" fill="#222" >100</text>
<line x1="456.25" y1="404.50" x2="456.25" y2="407.50" stroke="#222" stroke-width="1" />
<line x1="478.75" y1="404.50" x2="478.75" y2="407.50" stroke="#222" stroke-width="1" />
<line x1="500.00" y1="404.50" x2="500.00" y2="407.50" stroke="#222" stroke-width="1" />
<rect x="435.40" y="349.50" width="8.20" height="36.75" fill="#acdc9d" />
<line x1="439.50" y1="303.75" x2="439.50" y2="404.50" stroke="#3f9a40" stroke-width="1.5" />
<path d="M438.7,304.7h1.6v1.6h-1.6zM438.7,308.3h1.6v1.6h-1.6zM438.7,311.9h1.6v1.6h-1.6zM438.7,315.5h1.6v1.6h-1.6zM438.7,319.1h1.6v1.6h-1.6zM438.7,322.7h1.6v1.6h-1.6zM438.7,326.3h1.6v1.6h-1.6zM438.7,329.9h1.6v1.6h-1.6zM438.7,333.5h1.6v1.6h-1.6zM438.7,337.1h1.6v1.6h-1.6zM438.7,340.7h1.6v1.6h-1.6zM438.7,344.3h1.6v1.6h-1.6zM438.7,347.9h1.6v1.6h-1.6zM438.7,351.5h1.6v1.6h-1.6zM438.7,355.1h1.6v1.6h-1.6zM438.7,358.7h1.6v1.6h-1.6zM438.7,362.3h1.6v1.6h-1.6zM438.7,365.9h1.6v1.6h-1.6zM438.7,369.5h1.6v1.6h-1.6zM438.7,373.1h1.6v1.6h-1.6zM438.7,376.7h1.6v1.6h-1.6zM438.7,380.3h1.6v1.6h-1.6zM438.7,383.9h1.6v1.6h-1.6zM438.7,387.5h1.6v1.6h-1.6zM438.7,391.1h1.6v1.6h-1.6zM438.7,394.7h1.6v1.6h-1.6zM438.7,398.3h1.6v1.6h-1.6zM438.7,401.9h1.6v1.6h-1.6z" fill="#2f8535"/>
<line x1="435.40" y1="365.75" x2="443.60" y2="365.75" stroke="#2c7d30" stroke-width="1.2" />
<rect x="446.65" y="359.50" width="8.20" height="24.25" fill="#95a2d0" />
<line x1="450.75" y1="342.50" x2="450.75" y2="402.00" stroke="#2c5590" stroke-width="1.5" />
<path d="M449.9,343.4h1.6v1.6h-1.6zM449.9,346.9h1.6v1.6h-1.6zM449.9,350.4h1.6v1.6h-1.6zM449.9,353.9h1.6v1.6h-1.6zM449.9,357.4h1.6v1.6h-1.6zM449.9,360.9h1.6v1.6h-1.6zM449.9,364.4h1.6v1.6h-1.6zM449.9,367.9h1.6v1.6h-1.6zM449.9,371.4h1.6v1.6h-1.6zM449.9,374.9h1.6v1.6h-1.6zM449.9,378.4h1.6v1.6h-1.6zM449.9,381.9h1.6v1.6h-1.6zM449.9,385.4h1.6v1.6h-1.6zM449.9,388.9h1.6v1.6h-1.6zM449.9,392.4h1.6v1.6h-1.6zM449.9,395.9h1.6v1.6h-1.6zM449.9,399.4h1.6v1.6h-1.6z" fill="#20457c"/>
<line x1="446.65" y1="373.75" x2="454.85" y2="373.75" stroke="#1b3566" stroke-width="1.2" />
<rect x="457.65" y="376.25" width="8.20" height="18.25" fill="#f39a92" />
<line x1="461.75" y1="355.00" x2="461.75" y2="402.00" stroke="#cc2a3c" stroke-width="1.5" />
<path d="M460.9,356.0h1.6v1.6h-1.6zM460.9,359.6h1.6v1.6h-1.6zM460.9,363.2h1.6v1.6h-1.6zM460.9,366.9h1.6v1.6h-1.6zM460.9,370.5h1.6v1.6h-1.6zM460.9,374.1h1.6v1.6h-1.6zM460.9,377.7h1.6v1.6h-1.6zM460.9,381.3h1.6v1.6h-1.6zM460.9,384.9h1.6v1.6h-1.6zM460.9,388.5h1.6v1.6h-1.6zM460.9,392.2h1.6v1.6h-1.6zM460.9,395.8h1.6v1.6h-1.6zM460.9,399.4h1.6v1.6h-1.6zM460.9,343.6h1.8v1.8h-1.8z" fill="#bb1f36"/>
<line x1="457.65" y1="386.25" x2="465.85" y2="386.25" stroke="#b3122a" stroke-width="1.2" />
<rect x="468.90" y="350.50" width="8.20" height="24.00" fill="#95a2d0" />
<line x1="473.00" y1="327.00" x2="473.00" y2="401.25" stroke="#2c5590" stroke-width="1.5" />
<path d="M472.2,328.0h1.6v1.6h-1.6zM472.2,331.5h1.6v1.6h-1.6zM472.2,335.0h1.6v1.6h-1.6zM472.2,338.6h1.6v1.6h-1.6zM472.2,342.1h1.6v1.6h-1.6zM472.2,345.6h1.6v1.6h-1.6zM472.2,349.2h1.6v1.6h-1.6zM472.2,352.7h1.6v1.6h-1.6zM472.2,356.3h1.6v1.6h-1.6zM472.2,359.8h1.6v1.6h-1.6zM472.2,363.3h1.6v1.6h-1.6zM472.2,366.9h1.6v1.6h-1.6zM472.2,370.4h1.6v1.6h-1.6zM472.2,373.9h1.6v1.6h-1.6zM472.2,377.5h1.6v1.6h-1.6zM472.2,381.0h1.6v1.6h-1.6zM472.2,384.5h1.6v1.6h-1.6zM472.2,388.1h1.6v1.6h-1.6zM472.2,391.6h1.6v1.6h-1.6zM472.2,395.1h1.6v1.6h-1.6zM472.2,398.7h1.6v1.6h-1.6z" fill="#20457c"/>
<line x1="468.90" y1="358.00" x2="477.10" y2="358.00" stroke="#1b3566" stroke-width="1.2" />
<rect x="479.65" y="384.50" width="8.20" height="11.75" fill="#f39a92" />
<line x1="483.75" y1="363.75" x2="483.75" y2="403.00" stroke="#cc2a3c" stroke-width="1.5" />
<path d="M482.9,364.7h1.6v1.6h-1.6zM482.9,368.3h1.6v1.6h-1.6zM482.9,371.9h1.6v1.6h-1.6zM482.9,375.4h1.6v1.6h-1.6zM482.9,379.0h1.6v1.6h-1.6zM482.9,382.6h1.6v1.6h-1.6zM482.9,386.1h1.6v1.6h-1.6zM482.9,389.7h1.6v1.6h-1.6zM482.9,393.3h1.6v1.6h-1.6zM482.9,396.8h1.6v1.6h-1.6zM482.9,400.4h1.6v1.6h-1.6zM482.9,345.4h1.8v1.8h-1.8zM482.9,347.9h1.8v1.8h-1.8zM482.9,354.1h1.8v1.8h-1.8z" fill="#bb1f36"/>
<line x1="479.65" y1="390.75" x2="487.85" y2="390.75" stroke="#b3122a" stroke-width="1.2" />
<rect x="490.90" y="355.00" width="8.20" height="30.50" fill="#95a2d0" />
<line x1="495.00" y1="336.25" x2="495.00" y2="403.00" stroke="#2c5590" stroke-width="1.5" />
<path d="M494.2,337.2h1.6v1.6h-1.6zM494.2,340.7h1.6v1.6h-1.6zM494.2,344.2h1.6v1.6h-1.6zM494.2,347.7h1.6v1.6h-1.6zM494.2,351.3h1.6v1.6h-1.6zM494.2,354.8h1.6v1.6h-1.6zM494.2,358.3h1.6v1.6h-1.6zM494.2,361.8h1.6v1.6h-1.6zM494.2,365.3h1.6v1.6h-1.6zM494.2,368.8h1.6v1.6h-1.6zM494.2,372.3h1.6v1.6h-1.6zM494.2,375.9h1.6v1.6h-1.6zM494.2,379.4h1.6v1.6h-1.6zM494.2,382.9h1.6v1.6h-1.6zM494.2,386.4h1.6v1.6h-1.6zM494.2,389.9h1.6v1.6h-1.6zM494.2,393.4h1.6v1.6h-1.6zM494.2,396.9h1.6v1.6h-1.6zM494.2,400.4h1.6v1.6h-1.6z" fill="#20457c"/>
<line x1="490.90" y1="365.00" x2="499.10" y2="365.00" stroke="#1b3566" stroke-width="1.2" />
<rect x="502.15" y="364.50" width="8.20" height="29.25" fill="#f39a92" />
<line x1="506.25" y1="335.50" x2="506.25" y2="402.50" stroke="#cc2a3c" stroke-width="1.5" />
<path d="M505.4,336.5h1.6v1.6h-1.6zM505.4,340.0h1.6v1.6h-1.6zM505.4,343.5h1.6v1.6h-1.6zM505.4,347.0h1.6v1.6h-1.6zM505.4,350.6h1.6v1.6h-1.6zM505.4,354.1h1.6v1.6h-1.6zM505.4,357.6h1.6v1.6h-1.6zM505.4,361.1h1.6v1.6h-1.6zM505.4,364.7h1.6v1.6h-1.6zM505.4,368.2h1.6v1.6h-1.6zM505.4,371.7h1.6v1.6h-1.6zM505.4,375.3h1.6v1.6h-1.6zM505.4,378.8h1.6v1.6h-1.6zM505.4,382.3h1.6v1.6h-1.6zM505.4,385.8h1.6v1.6h-1.6zM505.4,389.4h1.6v1.6h-1.6zM505.4,392.9h1.6v1.6h-1.6zM505.4,396.4h1.6v1.6h-1.6zM505.4,399.9h1.6v1.6h-1.6z" fill="#bb1f36"/>
<line x1="502.15" y1="374.50" x2="510.35" y2="374.50" stroke="#b3122a" stroke-width="1.2" />
<path d="M450.00,296.55 V293.75 H462.00 V296.55" fill="none" stroke="#222" stroke-width="0.9"/>
<text x="456.00" y="294.25" font-size="7.4" text-anchor="middle" font-weight="bold" fill="#222" >****</text>
<path d="M472.50,296.55 V293.75 H483.75 V296.55" fill="none" stroke="#222" stroke-width="0.9"/>
<text x="478.12" y="294.25" font-size="7.4" text-anchor="middle" font-weight="bold" fill="#222" >****</text>
<path d="M495.50,296.55 V293.75 H506.25 V296.55" fill="none" stroke="#222" stroke-width="0.9"/>
<text x="500.88" y="291.95" font-size="8.5" text-anchor="middle" font-weight="normal" fill="#222" >ns</text>
<path d="M450.00,284.05 V281.25 H472.50 V284.05" fill="none" stroke="#222" stroke-width="0.9"/>
<text x="461.25" y="281.75" font-size="7.4" text-anchor="middle" font-weight="bold" fill="#222" >***</text>
<path d="M472.50,284.05 V281.25 H495.00 V284.05" fill="none" stroke="#222" stroke-width="0.9"/>
<text x="483.75" y="279.45" font-size="8.5" text-anchor="middle" font-weight="normal" fill="#222" >ns</text>
<text transform="translate(459.15,415.60) rotate(-45)" x="0" y="0" font-size="10" text-anchor="end" fill="#1a1a1a" stroke="#1a1a1a" stroke-width="0.25" textLength="36.5" lengthAdjust="spacingAndGlyphs">T-replete</text>
<text transform="translate(481.65,415.60) rotate(-45)" x="0" y="0" font-size="10" text-anchor="end" fill="#1a1a1a" stroke="#1a1a1a" stroke-width="0.25" >TCD</text>
<text transform="translate(502.90,415.60) rotate(-45)" x="0" y="0" font-size="10" text-anchor="end" fill="#1a1a1a" stroke="#1a1a1a" stroke-width="0.25" >DUCB</text>
<rect x="155.10" y="451.60" width="8.20" height="8.00" fill="#acdc9d" stroke="#3f9a40" stroke-opacity="0.55" stroke-width="1"/>
<rect x="157.30" y="454.40" width="3.80" height="2.80" fill="#3f9a40" opacity="0.8"/>
<text x="166.30" y="458.30" font-size="7.5" text-anchor="start" font-weight="normal" fill="#222" >Pre-HCT</text>
<rect x="206.10" y="451.60" width="8.20" height="8.00" fill="#95a2d0" stroke="#2c5590" stroke-opacity="0.55" stroke-width="1"/>
<rect x="208.30" y="454.40" width="3.80" height="2.80" fill="#2c5590" opacity="0.8"/>
<text x="217.00" y="458.30" font-size="7.5" text-anchor="start" font-weight="normal" fill="#222" >No CMV reactivation</text>
<rect x="295.60" y="451.60" width="8.20" height="8.00" fill="#f39a92" stroke="#cc2a3c" stroke-opacity="0.55" stroke-width="1"/>
<rect x="297.80" y="454.40" width="3.80" height="2.80" fill="#cc2a3c" opacity="0.8"/>
<text x="307.50" y="458.30" font-size="7.5" text-anchor="start" font-weight="normal" fill="#222" >CMV reactivation</text>
<text x="85.75" y="499.15" font-size="10.2" text-anchor="middle" fill="#1a1a1a">CD56<tspan font-size="7.6" dy="-3.4">bright</tspan><tspan dy="3.4"> NK</tspan></text>
<text transform="translate(18.70,568.40) rotate(-90)" x="0" y="0" font-size="9.6" text-anchor="middle" fill="#1a1a1a" font-weight="bold" stroke="#1a1a1a" stroke-width="0" textLength="73" lengthAdjust="spacingAndGlyphs">%NKG2C SP NK cells</text>
<line x1="46.25" y1="505.00" x2="46.25" y2="633.85" stroke="#222" stroke-width="1.4" />
<line x1="45.65" y1="633.25" x2="124.50" y2="633.25" stroke="#222" stroke-width="1.4" />
<line x1="43.25" y1="633.25" x2="46.25" y2="633.25" stroke="#222" stroke-width="1.1" />
<text x="40.05" y="635.95" font-size="8.6" text-anchor="end" font-weight="normal" fill="#222" >0</text>
<line x1="43.25" y1="610.85" x2="46.25" y2="610.85" stroke="#222" stroke-width="1.1" />
<text x="40.05" y="613.55" font-size="8.6" text-anchor="end" font-weight="normal" fill="#222" >20</text>
<line x1="43.25" y1="588.45" x2="46.25" y2="588.45" stroke="#222" stroke-width="1.1" />
<text x="40.05" y="591.15" font-size="8.6" text-anchor="end" font-weight="normal" fill="#222" >40</text>
<line x1="43.25" y1="566.05" x2="46.25" y2="566.05" stroke="#222" stroke-width="1.1" />
<text x="40.05" y="568.75" font-size="8.6" text-anchor="end" font-weight="normal" fill="#222" >60</text>
<line x1="43.25" y1="543.65" x2="46.25" y2="543.65" stroke="#222" stroke-width="1.1" />
<text x="40.05" y="546.35" font-size="8.6" text-anchor="end" font-weight="normal" fill="#222" >80</text>
<line x1="43.25" y1="521.25" x2="46.25" y2="521.25" stroke="#222" stroke-width="1.1" />
<text x="40.05" y="523.95" font-size="8.6" text-anchor="end" font-weight="normal" fill="#222" >100</text>
<line x1="68.40" y1="633.25" x2="68.40" y2="636.25" stroke="#222" stroke-width="1" />
<line x1="90.60" y1="633.25" x2="90.60" y2="636.25" stroke="#222" stroke-width="1" />
<line x1="113.00" y1="633.25" x2="113.00" y2="636.25" stroke="#222" stroke-width="1" />
<rect x="48.40" y="630.00" width="8.20" height="3.00" fill="#acdc9d" />
<line x1="52.50" y1="617.00" x2="52.50" y2="633.00" stroke="#3f9a40" stroke-width="1.5" />
<path d="M51.7,618.2h1.6v1.6h-1.6zM51.7,622.2h1.6v1.6h-1.6zM51.7,626.2h1.6v1.6h-1.6zM51.7,630.2h1.6v1.6h-1.6z" fill="#2f8535"/>
<line x1="48.40" y1="631.50" x2="56.60" y2="631.50" stroke="#2c7d30" stroke-width="1.2" />
<rect x="58.90" y="632.00" width="8.20" height="1.00" fill="#95a2d0" />
<line x1="63.00" y1="626.25" x2="63.00" y2="633.00" stroke="#2c5590" stroke-width="1.5" />
<path d="M62.2,628.8h1.6v1.6h-1.6z" fill="#20457c"/>
<line x1="58.90" y1="632.50" x2="67.10" y2="632.50" stroke="#1b3566" stroke-width="1.2" />
<rect x="69.65" y="627.50" width="8.20" height="5.50" fill="#f39a92" />
<line x1="73.75" y1="622.50" x2="73.75" y2="633.00" stroke="#cc2a3c" stroke-width="1.5" />
<path d="M73.0,623.5h1.6v1.6h-1.6zM73.0,627.0h1.6v1.6h-1.6zM73.0,630.5h1.6v1.6h-1.6zM72.8,600.4h1.8v1.8h-1.8zM72.8,604.1h1.8v1.8h-1.8zM72.8,611.6h1.8v1.8h-1.8z" fill="#bb1f36"/>
<line x1="69.65" y1="630.00" x2="77.85" y2="630.00" stroke="#b3122a" stroke-width="1.2" />
<rect x="81.15" y="632.00" width="8.20" height="1.00" fill="#95a2d0" />
<line x1="85.25" y1="623.75" x2="85.25" y2="633.00" stroke="#2c5590" stroke-width="1.5" />
<path d="M84.5,625.3h1.6v1.6h-1.6zM84.5,629.9h1.6v1.6h-1.6z" fill="#20457c"/>
<line x1="81.15" y1="632.50" x2="89.35" y2="632.50" stroke="#1b3566" stroke-width="1.2" />
<rect x="91.90" y="627.00" width="8.20" height="6.00" fill="#f39a92" />
<line x1="96.00" y1="620.00" x2="96.00" y2="633.00" stroke="#cc2a3c" stroke-width="1.5" />
<path d="M95.2,621.4h1.6v1.6h-1.6zM95.2,625.7h1.6v1.6h-1.6zM95.2,630.0h1.6v1.6h-1.6zM95.1,606.1h1.8v1.8h-1.8zM95.1,616.6h1.8v1.8h-1.8zM95.1,618.6h1.8v1.8h-1.8z" fill="#bb1f36"/>
<line x1="91.90" y1="630.00" x2="100.10" y2="630.00" stroke="#b3122a" stroke-width="1.2" />
<rect x="103.65" y="631.00" width="8.20" height="2.00" fill="#95a2d0" />
<line x1="107.75" y1="626.00" x2="107.75" y2="633.00" stroke="#2c5590" stroke-width="1.5" />
<path d="M107.0,627.0h1.6v1.6h-1.6zM107.0,630.5h1.6v1.6h-1.6zM106.8,614.6h1.8v1.8h-1.8z" fill="#20457c"/>
<line x1="103.65" y1="632.00" x2="111.85" y2="632.00" stroke="#1b3566" stroke-width="1.2" />
<rect x="114.65" y="626.25" width="8.20" height="6.75" fill="#f39a92" />
<line x1="118.75" y1="613.00" x2="118.75" y2="633.00" stroke="#cc2a3c" stroke-width="1.5" />
<path d="M118.0,614.2h1.6v1.6h-1.6zM118.0,618.2h1.6v1.6h-1.6zM118.0,622.2h1.6v1.6h-1.6zM118.0,626.2h1.6v1.6h-1.6zM118.0,630.2h1.6v1.6h-1.6zM117.8,608.6h1.8v1.8h-1.8z" fill="#bb1f36"/>
<line x1="114.65" y1="628.00" x2="122.85" y2="628.00" stroke="#b3122a" stroke-width="1.2" />
<path d="M63.00,523.50 V520.70 H74.50 V523.50" fill="none" stroke="#222" stroke-width="0.9"/>
<text x="68.75" y="521.20" font-size="7.4" text-anchor="middle" font-weight="bold" fill="#222" >**</text>
<path d="M85.30,521.70 V520.50 H96.70 V521.70" fill="none" stroke="#222" stroke-width="0.9"/>
<text x="91.00" y="521.00" font-size="7.4" text-anchor="middle" font-weight="bold" fill="#222" >***</text>
<path d="M107.50,521.70 V520.50 H118.90 V521.70" fill="none" stroke="#222" stroke-width="0.9"/>
<text x="113.20" y="521.00" font-size="7.4" text-anchor="middle" font-weight="bold" fill="#222" >*</text>
<text transform="translate(71.30,644.35) rotate(-45)" x="0" y="0" font-size="10" text-anchor="end" fill="#1a1a1a" stroke="#1a1a1a" stroke-width="0.25" textLength="36.5" lengthAdjust="spacingAndGlyphs">T-replete</text>
<text transform="translate(93.50,644.35) rotate(-45)" x="0" y="0" font-size="10" text-anchor="end" fill="#1a1a1a" stroke="#1a1a1a" stroke-width="0.25" >TCD</text>
<text transform="translate(115.90,644.35) rotate(-45)" x="0" y="0" font-size="10" text-anchor="end" fill="#1a1a1a" stroke="#1a1a1a" stroke-width="0.25" >DUCB</text>
<text x="196.60" y="499.15" font-size="10.2" text-anchor="middle" fill="#1a1a1a">CD56<tspan font-size="7.6" dy="-3.4">dim</tspan><tspan dy="3.4"> NK</tspan></text>
<line x1="156.25" y1="505.00" x2="156.25" y2="633.90" stroke="#222" stroke-width="1.4" />
<line x1="155.65" y1="633.30" x2="236.25" y2="633.30" stroke="#222" stroke-width="1.4" />
<line x1="153.25" y1="633.30" x2="156.25" y2="633.30" stroke="#222" stroke-width="1.1" />
<text x="150.05" y="636.00" font-size="8.6" text-anchor="end" font-weight="normal" fill="#222" >0</text>
<line x1="153.25" y1="610.89" x2="156.25" y2="610.89" stroke="#222" stroke-width="1.1" />
<text x="150.05" y="613.59" font-size="8.6" text-anchor="end" font-weight="normal" fill="#222" >20</text>
<line x1="153.25" y1="588.48" x2="156.25" y2="588.48" stroke="#222" stroke-width="1.1" />
<text x="150.05" y="591.18" font-size="8.6" text-anchor="end" font-weight="normal" fill="#222" >40</text>
<line x1="153.25" y1="566.07" x2="156.25" y2="566.07" stroke="#222" stroke-width="1.1" />
<text x="150.05" y="568.77" font-size="8.6" text-anchor="end" font-weight="normal" fill="#222" >60</text>
<line x1="153.25" y1="543.66" x2="156.25" y2="543.66" stroke="#222" stroke-width="1.1" />
<text x="150.05" y="546.36" font-size="8.6" text-anchor="end" font-weight="normal" fill="#222" >80</text>
<line x1="153.25" y1="521.25" x2="156.25" y2="521.25" stroke="#222" stroke-width="1.1" />
<text x="150.05" y="523.95" font-size="8.6" text-anchor="end" font-weight="normal" fill="#222" >100</text>
<line x1="180.00" y1="633.30" x2="180.00" y2="636.30" stroke="#222" stroke-width="1" />
<line x1="202.00" y1="633.30" x2="202.00" y2="636.30" stroke="#222" stroke-width="1" />
<line x1="223.75" y1="633.30" x2="223.75" y2="636.30" stroke="#222" stroke-width="1" />
<rect x="158.90" y="622.20" width="8.20" height="7.40" fill="#acdc9d" />
<line x1="163.00" y1="610.50" x2="163.00" y2="633.30" stroke="#3f9a40" stroke-width="1.5" />
<path d="M162.2,611.6h1.6v1.6h-1.6zM162.2,615.4h1.6v1.6h-1.6zM162.2,619.2h1.6v1.6h-1.6zM162.2,623.0h1.6v1.6h-1.6zM162.2,626.8h1.6v1.6h-1.6zM162.2,630.6h1.6v1.6h-1.6zM162.1,534.6h1.8v1.8h-1.8zM162.1,542.1h1.8v1.8h-1.8zM162.1,547.9h1.8v1.8h-1.8zM162.1,575.4h1.8v1.8h-1.8zM162.1,581.6h1.8v1.8h-1.8zM162.1,583.6h1.8v1.8h-1.8zM162.1,596.6h1.8v1.8h-1.8zM162.1,602.1h1.8v1.8h-1.8zM162.1,604.1h1.8v1.8h-1.8z" fill="#2f8535"/>
<line x1="158.90" y1="627.00" x2="167.10" y2="627.00" stroke="#2c7d30" stroke-width="1.2" />
<rect x="170.40" y="625.50" width="8.20" height="4.50" fill="#95a2d0" />
<line x1="174.50" y1="621.25" x2="174.50" y2="633.30" stroke="#2c5590" stroke-width="1.5" />
<path d="M173.7,622.5h1.6v1.6h-1.6zM173.7,626.5h1.6v1.6h-1.6zM173.7,630.5h1.6v1.6h-1.6zM173.6,567.9h1.8v1.8h-1.8zM173.6,587.1h1.8v1.8h-1.8zM173.6,612.1h1.8v1.8h-1.8z" fill="#20457c"/>
<line x1="170.40" y1="627.50" x2="178.60" y2="627.50" stroke="#1b3566" stroke-width="1.2" />
<rect x="181.40" y="593.00" width="8.20" height="30.00" fill="#f39a92" />
<line x1="185.50" y1="545.00" x2="185.50" y2="633.30" stroke="#cc2a3c" stroke-width="1.5" />
<path d="M184.7,546.0h1.6v1.6h-1.6zM184.7,549.5h1.6v1.6h-1.6zM184.7,553.0h1.6v1.6h-1.6zM184.7,556.6h1.6v1.6h-1.6zM184.7,560.1h1.6v1.6h-1.6zM184.7,563.6h1.6v1.6h-1.6zM184.7,567.2h1.6v1.6h-1.6zM184.7,570.7h1.6v1.6h-1.6zM184.7,574.2h1.6v1.6h-1.6zM184.7,577.8h1.6v1.6h-1.6zM184.7,581.3h1.6v1.6h-1.6zM184.7,584.8h1.6v1.6h-1.6zM184.7,588.4h1.6v1.6h-1.6zM184.7,591.9h1.6v1.6h-1.6zM184.7,595.4h1.6v1.6h-1.6zM184.7,598.9h1.6v1.6h-1.6zM184.7,602.5h1.6v1.6h-1.6zM184.7,606.0h1.6v1.6h-1.6zM184.7,609.5h1.6v1.6h-1.6zM184.7,613.1h1.6v1.6h-1.6zM184.7,616.6h1.6v1.6h-1.6zM184.7,620.1h1.6v1.6h-1.6zM184.7,623.7h1.6v1.6h-1.6zM184.7,627.2h1.6v1.6h-1.6zM184.7,630.7h1.6v1.6h-1.6z" fill="#bb1f36"/>
<line x1="181.40" y1="606.25" x2="189.60" y2="606.25" stroke="#b3122a" stroke-width="1.2" />
<rect x="192.40" y="622.00" width="8.20" height="6.75" fill="#95a2d0" />
<line x1="196.50" y1="605.00" x2="196.50" y2="633.30" stroke="#2c5590" stroke-width="1.5" />
<path d="M195.7,606.0h1.6v1.6h-1.6zM195.7,609.5h1.6v1.6h-1.6zM195.7,613.0h1.6v1.6h-1.6zM195.7,616.6h1.6v1.6h-1.6zM195.7,620.1h1.6v1.6h-1.6zM195.7,623.7h1.6v1.6h-1.6zM195.7,627.2h1.6v1.6h-1.6zM195.7,630.7h1.6v1.6h-1.6zM195.6,588.6h1.8v1.8h-1.8zM195.6,594.1h1.8v1.8h-1.8zM195.6,596.6h1.8v1.8h-1.8z" fill="#20457c"/>
<line x1="192.40" y1="626.25" x2="200.60" y2="626.25" stroke="#1b3566" stroke-width="1.2" />
<rect x="203.40" y="567.00" width="8.20" height="43.50" fill="#f39a92" />
<line x1="207.50" y1="548.00" x2="207.50" y2="633.30" stroke="#cc2a3c" stroke-width="1.5" />
<path d="M206.7,549.0h1.6v1.6h-1.6zM206.7,552.5h1.6v1.6h-1.6zM206.7,556.1h1.6v1.6h-1.6zM206.7,559.6h1.6v1.6h-1.6zM206.7,563.2h1.6v1.6h-1.6zM206.7,566.7h1.6v1.6h-1.6zM206.7,570.3h1.6v1.6h-1.6zM206.7,573.9h1.6v1.6h-1.6zM206.7,577.4h1.6v1.6h-1.6zM206.7,581.0h1.6v1.6h-1.6zM206.7,584.5h1.6v1.6h-1.6zM206.7,588.1h1.6v1.6h-1.6zM206.7,591.6h1.6v1.6h-1.6zM206.7,595.2h1.6v1.6h-1.6zM206.7,598.7h1.6v1.6h-1.6zM206.7,602.3h1.6v1.6h-1.6zM206.7,605.8h1.6v1.6h-1.6zM206.7,609.4h1.6v1.6h-1.6zM206.7,613.0h1.6v1.6h-1.6zM206.7,616.5h1.6v1.6h-1.6zM206.7,620.1h1.6v1.6h-1.6zM206.7,623.6h1.6v1.6h-1.6zM206.7,627.2h1.6v1.6h-1.6zM206.7,630.7h1.6v1.6h-1.6z" fill="#bb1f36"/>
<line x1="203.40" y1="583.00" x2="211.60" y2="583.00" stroke="#b3122a" stroke-width="1.2" />
<rect x="214.65" y="625.00" width="8.20" height="3.75" fill="#95a2d0" />
<line x1="218.75" y1="618.75" x2="218.75" y2="633.30" stroke="#2c5590" stroke-width="1.5" />
<path d="M217.9,619.8h1.6v1.6h-1.6zM217.9,623.4h1.6v1.6h-1.6zM217.9,627.0h1.6v1.6h-1.6zM217.9,630.7h1.6v1.6h-1.6zM217.8,549.6h1.8v1.8h-1.8zM217.8,569.1h1.8v1.8h-1.8z" fill="#20457c"/>
<line x1="214.65" y1="627.00" x2="222.85" y2="627.00" stroke="#1b3566" stroke-width="1.2" />
<rect x="225.90" y="595.50" width="8.20" height="30.75" fill="#f39a92" />
<line x1="230.00" y1="570.50" x2="230.00" y2="633.30" stroke="#cc2a3c" stroke-width="1.5" />
<path d="M229.2,571.5h1.6v1.6h-1.6zM229.2,575.2h1.6v1.6h-1.6zM229.2,578.9h1.6v1.6h-1.6zM229.2,582.6h1.6v1.6h-1.6zM229.2,586.3h1.6v1.6h-1.6zM229.2,590.0h1.6v1.6h-1.6zM229.2,593.7h1.6v1.6h-1.6zM229.2,597.4h1.6v1.6h-1.6zM229.2,601.1h1.6v1.6h-1.6zM229.2,604.8h1.6v1.6h-1.6zM229.2,608.5h1.6v1.6h-1.6zM229.2,612.2h1.6v1.6h-1.6zM229.2,615.9h1.6v1.6h-1.6zM229.2,619.6h1.6v1.6h-1.6zM229.2,623.3h1.6v1.6h-1.6zM229.2,627.0h1.6v1.6h-1.6zM229.2,630.7h1.6v1.6h-1.6zM229.1,542.9h1.8v1.8h-1.8z" fill="#bb1f36"/>
<line x1="225.90" y1="613.00" x2="234.10" y2="613.00" stroke="#b3122a" stroke-width="1.2" />
<path d="M174.50,531.55 V528.75 H185.50 V531.55" fill="none" stroke="#222" stroke-width="0.9"/>
<text x="180.00" y="529.25" font-size="7.4" text-anchor="middle" font-weight="bold" fill="#222" >****</text>
<path d="M196.25,531.55 V528.75 H207.50 V531.55" fill="none" stroke="#222" stroke-width="0.9"/>
<text x="201.88" y="529.25" font-size="7.4" text-anchor="middle" font-weight="bold" fill="#222" >****</text>
<path d="M218.75,531.55 V528.75 H230.00 V531.55" fill="none" stroke="#222" stroke-width="0.9"/>
<text x="224.38" y="529.25" font-size="7.4" text-anchor="middle" font-weight="bold" fill="#222" >**</text>
<path d="M185.50,519.05 V516.25 H207.50 V519.05" fill="none" stroke="#222" stroke-width="0.9"/>
<text x="196.50" y="516.75" font-size="7.4" text-anchor="middle" font-weight="bold" fill="#222" >***</text>
<path d="M207.50,519.05 V516.25 H230.00 V519.05" fill="none" stroke="#222" stroke-width="0.9"/>
<text x="218.75" y="516.75" font-size="7.4" text-anchor="middle" font-weight="bold" fill="#222" >***</text>
<text transform="translate(182.90,644.40) rotate(-45)" x="0" y="0" font-size="10" text-anchor="end" fill="#1a1a1a" stroke="#1a1a1a" stroke-width="0.25" textLength="36.5" lengthAdjust="spacingAndGlyphs">T-replete</text>
<text transform="translate(204.90,644.40) rotate(-45)" x="0" y="0" font-size="10" text-anchor="end" fill="#1a1a1a" stroke="#1a1a1a" stroke-width="0.25" >TCD</text>
<text transform="translate(226.65,644.40) rotate(-45)" x="0" y="0" font-size="10" text-anchor="end" fill="#1a1a1a" stroke="#1a1a1a" stroke-width="0.25" >DUCB</text>
<text x="307.25" y="499.15" font-size="10.2" text-anchor="middle" fill="#1a1a1a">CD56<tspan font-size="7.6" dy="-3.4">neg</tspan><tspan dy="3.4"> NK</tspan></text>
<line x1="267.00" y1="505.00" x2="267.00" y2="633.90" stroke="#222" stroke-width="1.4" />
<line x1="266.40" y1="633.30" x2="346.25" y2="633.30" stroke="#222" stroke-width="1.4" />
<line x1="264.00" y1="633.30" x2="267.00" y2="633.30" stroke="#222" stroke-width="1.1" />
<text x="260.80" y="636.00" font-size="8.6" text-anchor="end" font-weight="normal" fill="#222" >0</text>
<line x1="264.00" y1="610.89" x2="267.00" y2="610.89" stroke="#222" stroke-width="1.1" />
<text x="260.80" y="613.59" font-size="8.6" text-anchor="end" font-weight="normal" fill="#222" >20</text>
<line x1="264.00" y1="588.48" x2="267.00" y2="588.48" stroke="#222" stroke-width="1.1" />
<text x="260.80" y="591.18" font-size="8.6" text-anchor="end" font-weight="normal" fill="#222" >40</text>
<line x1="264.00" y1="566.07" x2="267.00" y2="566.07" stroke="#222" stroke-width="1.1" />
<text x="260.80" y="568.77" font-size="8.6" text-anchor="end" font-weight="normal" fill="#222" >60</text>
<line x1="264.00" y1="543.66" x2="267.00" y2="543.66" stroke="#222" stroke-width="1.1" />
<text x="260.80" y="546.36" font-size="8.6" text-anchor="end" font-weight="normal" fill="#222" >80</text>
<line x1="264.00" y1="521.25" x2="267.00" y2="521.25" stroke="#222" stroke-width="1.1" />
<text x="260.80" y="523.95" font-size="8.6" text-anchor="end" font-weight="normal" fill="#222" >100</text>
<line x1="291.25" y1="633.30" x2="291.25" y2="636.30" stroke="#222" stroke-width="1" />
<line x1="313.75" y1="633.30" x2="313.75" y2="636.30" stroke="#222" stroke-width="1" />
<line x1="336.25" y1="633.30" x2="336.25" y2="636.30" stroke="#222" stroke-width="1" />
<rect x="269.65" y="622.50" width="8.20" height="7.50" fill="#acdc9d" />
<line x1="273.75" y1="609.50" x2="273.75" y2="633.30" stroke="#3f9a40" stroke-width="1.5" />
<path d="M272.9,610.7h1.6v1.6h-1.6zM272.9,614.7h1.6v1.6h-1.6zM272.9,618.6h1.6v1.6h-1.6zM272.9,622.6h1.6v1.6h-1.6zM272.9,626.5h1.6v1.6h-1.6zM272.9,630.5h1.6v1.6h-1.6zM272.9,546.6h1.8v1.8h-1.8zM272.9,559.6h1.8v1.8h-1.8zM272.9,561.6h1.8v1.8h-1.8zM272.9,571.6h1.8v1.8h-1.8zM272.9,582.9h1.8v1.8h-1.8zM272.9,594.1h1.8v1.8h-1.8zM272.9,597.9h1.8v1.8h-1.8z" fill="#2f8535"/>
<line x1="269.65" y1="626.25" x2="277.85" y2="626.25" stroke="#2c7d30" stroke-width="1.2" />
<rect x="280.40" y="624.50" width="8.20" height="5.50" fill="#95a2d0" />
<line x1="284.50" y1="617.50" x2="284.50" y2="633.30" stroke="#2c5590" stroke-width="1.5" />
<path d="M283.7,618.7h1.6v1.6h-1.6zM283.7,622.6h1.6v1.6h-1.6zM283.7,626.6h1.6v1.6h-1.6zM283.7,630.5h1.6v1.6h-1.6zM283.6,589.1h1.8v1.8h-1.8zM283.6,604.6h1.8v1.8h-1.8zM283.6,610.4h1.8v1.8h-1.8z" fill="#20457c"/>
<line x1="280.40" y1="627.50" x2="288.60" y2="627.50" stroke="#1b3566" stroke-width="1.2" />
<rect x="291.65" y="589.50" width="8.20" height="37.50" fill="#f39a92" />
<line x1="295.75" y1="550.00" x2="295.75" y2="633.30" stroke="#cc2a3c" stroke-width="1.5" />
<path d="M294.9,551.0h1.6v1.6h-1.6zM294.9,554.6h1.6v1.6h-1.6zM294.9,558.3h1.6v1.6h-1.6zM294.9,561.9h1.6v1.6h-1.6zM294.9,565.5h1.6v1.6h-1.6zM294.9,569.1h1.6v1.6h-1.6zM294.9,572.7h1.6v1.6h-1.6zM294.9,576.4h1.6v1.6h-1.6zM294.9,580.0h1.6v1.6h-1.6zM294.9,583.6h1.6v1.6h-1.6zM294.9,587.2h1.6v1.6h-1.6zM294.9,590.9h1.6v1.6h-1.6zM294.9,594.5h1.6v1.6h-1.6zM294.9,598.1h1.6v1.6h-1.6zM294.9,601.7h1.6v1.6h-1.6zM294.9,605.3h1.6v1.6h-1.6zM294.9,609.0h1.6v1.6h-1.6zM294.9,612.6h1.6v1.6h-1.6zM294.9,616.2h1.6v1.6h-1.6zM294.9,619.8h1.6v1.6h-1.6zM294.9,623.4h1.6v1.6h-1.6zM294.9,627.1h1.6v1.6h-1.6zM294.9,630.7h1.6v1.6h-1.6z" fill="#bb1f36"/>
<line x1="291.65" y1="612.50" x2="299.85" y2="612.50" stroke="#b3122a" stroke-width="1.2" />
<rect x="302.90" y="616.25" width="8.20" height="11.25" fill="#95a2d0" />
<line x1="307.00" y1="600.50" x2="307.00" y2="633.30" stroke="#2c5590" stroke-width="1.5" />
<path d="M306.2,601.5h1.6v1.6h-1.6zM306.2,605.2h1.6v1.6h-1.6zM306.2,608.8h1.6v1.6h-1.6zM306.2,612.5h1.6v1.6h-1.6zM306.2,616.1h1.6v1.6h-1.6zM306.2,619.7h1.6v1.6h-1.6zM306.2,623.4h1.6v1.6h-1.6zM306.2,627.0h1.6v1.6h-1.6zM306.2,630.7h1.6v1.6h-1.6zM306.1,570.4h1.8v1.8h-1.8zM306.1,573.6h1.8v1.8h-1.8zM306.1,582.1h1.8v1.8h-1.8zM306.1,594.1h1.8v1.8h-1.8z" fill="#20457c"/>
<line x1="302.90" y1="622.50" x2="311.10" y2="622.50" stroke="#1b3566" stroke-width="1.2" />
<rect x="313.90" y="578.00" width="8.20" height="31.50" fill="#f39a92" />
<line x1="318.00" y1="555.50" x2="318.00" y2="633.30" stroke="#cc2a3c" stroke-width="1.5" />
<path d="M317.2,556.5h1.6v1.6h-1.6zM317.2,560.0h1.6v1.6h-1.6zM317.2,563.5h1.6v1.6h-1.6zM317.2,567.1h1.6v1.6h-1.6zM317.2,570.6h1.6v1.6h-1.6zM317.2,574.2h1.6v1.6h-1.6zM317.2,577.7h1.6v1.6h-1.6zM317.2,581.2h1.6v1.6h-1.6zM317.2,584.8h1.6v1.6h-1.6zM317.2,588.3h1.6v1.6h-1.6zM317.2,591.8h1.6v1.6h-1.6zM317.2,595.4h1.6v1.6h-1.6zM317.2,598.9h1.6v1.6h-1.6zM317.2,602.4h1.6v1.6h-1.6zM317.2,606.0h1.6v1.6h-1.6zM317.2,609.5h1.6v1.6h-1.6zM317.2,613.1h1.6v1.6h-1.6zM317.2,616.6h1.6v1.6h-1.6zM317.2,620.1h1.6v1.6h-1.6zM317.2,623.7h1.6v1.6h-1.6zM317.2,627.2h1.6v1.6h-1.6zM317.2,630.7h1.6v1.6h-1.6z" fill="#bb1f36"/>
<line x1="313.90" y1="594.50" x2="322.10" y2="594.50" stroke="#b3122a" stroke-width="1.2" />
<rect x="325.40" y="627.50" width="8.20" height="3.75" fill="#95a2d0" />
<line x1="329.50" y1="625.00" x2="329.50" y2="633.30" stroke="#2c5590" stroke-width="1.5" />
<path d="M328.7,626.3h1.6v1.6h-1.6zM328.7,630.4h1.6v1.6h-1.6zM328.6,564.1h1.8v1.8h-1.8zM328.6,589.6h1.8v1.8h-1.8zM328.6,618.6h1.8v1.8h-1.8z" fill="#20457c"/>
<line x1="325.40" y1="629.50" x2="333.60" y2="629.50" stroke="#1b3566" stroke-width="1.2" />
<rect x="336.40" y="612.00" width="8.20" height="16.75" fill="#f39a92" />
<line x1="340.50" y1="588.00" x2="340.50" y2="633.30" stroke="#cc2a3c" stroke-width="1.5" />
<path d="M339.7,589.1h1.6v1.6h-1.6zM339.7,592.9h1.6v1.6h-1.6zM339.7,596.6h1.6v1.6h-1.6zM339.7,600.4h1.6v1.6h-1.6zM339.7,604.2h1.6v1.6h-1.6zM339.7,608.0h1.6v1.6h-1.6zM339.7,611.7h1.6v1.6h-1.6zM339.7,615.5h1.6v1.6h-1.6zM339.7,619.3h1.6v1.6h-1.6zM339.7,623.1h1.6v1.6h-1.6zM339.7,626.8h1.6v1.6h-1.6zM339.7,630.6h1.6v1.6h-1.6zM339.6,562.9h1.8v1.8h-1.8z" fill="#bb1f36"/>
<line x1="336.40" y1="618.00" x2="344.60" y2="618.00" stroke="#b3122a" stroke-width="1.2" />
<path d="M284.50,526.55 V523.75 H295.75 V526.55" fill="none" stroke="#222" stroke-width="0.9"/>
<text x="290.12" y="524.25" font-size="7.4" text-anchor="middle" font-weight="bold" fill="#222" >****</text>
<path d="M307.00,526.55 V523.75 H318.00 V526.55" fill="none" stroke="#222" stroke-width="0.9"/>
<text x="312.50" y="524.25" font-size="7.4" text-anchor="middle" font-weight="bold" fill="#222" >****</text>
<path d="M329.50,526.55 V523.75 H340.50 V526.55" fill="none" stroke="#222" stroke-width="0.9"/>
<text x="335.00" y="524.25" font-size="7.4" text-anchor="middle" font-weight="bold" fill="#222" >*</text>
<path d="M295.75,514.05 V511.25 H318.00 V514.05" fill="none" stroke="#222" stroke-width="0.9"/>
<text x="306.88" y="511.75" font-size="7.4" text-anchor="middle" font-weight="bold" fill="#222" >**</text>
<path d="M318.00,514.05 V511.25 H340.50 V514.05" fill="none" stroke="#222" stroke-width="0.9"/>
<text x="329.25" y="511.75" font-size="7.4" text-anchor="middle" font-weight="bold" fill="#222" >****</text>
<text transform="translate(294.15,644.40) rotate(-45)" x="0" y="0" font-size="10" text-anchor="end" fill="#1a1a1a" stroke="#1a1a1a" stroke-width="0.25" textLength="36.5" lengthAdjust="spacingAndGlyphs">T-replete</text>
<text transform="translate(316.65,644.40) rotate(-45)" x="0" y="0" font-size="10" text-anchor="end" fill="#1a1a1a" stroke="#1a1a1a" stroke-width="0.25" >TCD</text>
<text transform="translate(339.15,644.40) rotate(-45)" x="0" y="0" font-size="10" text-anchor="end" fill="#1a1a1a" stroke="#1a1a1a" stroke-width="0.25" >DUCB</text>
<text transform="translate(393.60,572.90) rotate(-90)" x="0" y="0" font-size="9.6" text-anchor="middle" fill="#1a1a1a" font-weight="normal" stroke="#1a1a1a" stroke-width="0.3" textLength="88.5" lengthAdjust="spacingAndGlyphs">% NKG2C+ of total NK cells</text>
<line x1="420.50" y1="512.50" x2="420.50" y2="633.60" stroke="#222" stroke-width="1.4" />
<line x1="419.90" y1="633.00" x2="512.50" y2="633.00" stroke="#222" stroke-width="1.4" />
<line x1="417.50" y1="633.00" x2="420.50" y2="633.00" stroke="#222" stroke-width="1.1" />
<text x="414.30" y="635.70" font-size="8.6" text-anchor="end" font-weight="normal" fill="#222" >0</text>
<line x1="417.50" y1="621.25" x2="420.50" y2="621.25" stroke="#222" stroke-width="1.1" />
<text x="414.30" y="623.95" font-size="8.6" text-anchor="end" font-weight="normal" fill="#222" >10</text>
<line x1="417.50" y1="609.50" x2="420.50" y2="609.50" stroke="#222" stroke-width="1.1" />
<text x="414.30" y="612.20" font-size="8.6" text-anchor="end" font-weight="normal" fill="#222" >20</text>
<line x1="417.50" y1="597.75" x2="420.50" y2="597.75" stroke="#222" stroke-width="1.1" />
<text x="414.30" y="600.45" font-size="8.6" text-anchor="end" font-weight="normal" fill="#222" >30</text>
<line x1="417.50" y1="586.00" x2="420.50" y2="586.00" stroke="#222" stroke-width="1.1" />
<text x="414.30" y="588.70" font-size="8.6" text-anchor="end" font-weight="normal" fill="#222" >40</text>
<line x1="417.50" y1="574.25" x2="420.50" y2="574.25" stroke="#222" stroke-width="1.1" />
<text x="414.30" y="576.95" font-size="8.6" text-anchor="end" font-weight="normal" fill="#222" >50</text>
<line x1="417.50" y1="562.50" x2="420.50" y2="562.50" stroke="#222" stroke-width="1.1" />
<text x="414.30" y="565.20" font-size="8.6" text-anchor="end" font-weight="normal" fill="#222" >60</text>
<line x1="417.50" y1="550.75" x2="420.50" y2="550.75" stroke="#222" stroke-width="1.1" />
<text x="414.30" y="553.45" font-size="8.6" text-anchor="end" font-weight="normal" fill="#222" >70</text>
<line x1="417.50" y1="539.00" x2="420.50" y2="539.00" stroke="#222" stroke-width="1.1" />
<text x="414.30" y="541.70" font-size="8.6" text-anchor="end" font-weight="normal" fill="#222" >80</text>
<line x1="417.50" y1="527.25" x2="420.50" y2="527.25" stroke="#222" stroke-width="1.1" />
<text x="414.30" y="529.95" font-size="8.6" text-anchor="end" font-weight="normal" fill="#222" >90</text>
<line x1="417.50" y1="515.50" x2="420.50" y2="515.50" stroke="#222" stroke-width="1.1" />
<text x="414.30" y="518.20" font-size="8.6" text-anchor="end" font-weight="normal" fill="#222" >100</text>
<line x1="438.75" y1="633.00" x2="438.75" y2="636.00" stroke="#222" stroke-width="1" />
<line x1="467.00" y1="633.00" x2="467.00" y2="636.00" stroke="#222" stroke-width="1" />
<line x1="494.50" y1="633.00" x2="494.50" y2="636.00" stroke="#222" stroke-width="1" />
<line x1="422.50" y1="621.25" x2="511.25" y2="621.25" stroke="#d22" stroke-width="1.1" stroke-dasharray="1.4,1.4"/>
<line x1="439.50" y1="532.00" x2="493.75" y2="532.00" stroke="#222" stroke-width="1.3" />
<text x="466.62" y="531.40" font-size="7.4" text-anchor="middle" font-weight="bold" fill="#222" >**</text>
<line x1="439.50" y1="543.00" x2="465.00" y2="543.00" stroke="#222" stroke-width="1.3" />
<text x="452.25" y="542.40" font-size="7.4" text-anchor="middle" font-weight="bold" fill="#222" >**</text>
<line x1="469.50" y1="543.00" x2="495.00" y2="543.00" stroke="#222" stroke-width="1.3" />
<text x="482.25" y="542.40" font-size="7.4" text-anchor="middle" font-weight="bold" fill="#222" >****</text>
<path d="M438.25,548.41h1.8v1.8h-1.8zM438.25,558.72h1.8v1.8h-1.8zM438.25,560.72h1.8v1.8h-1.8zM436.10,573.33h1.8v1.8h-1.8zM440.25,573.33h1.8v1.8h-1.8zM436.10,576.41h1.8v1.8h-1.8zM440.25,576.41h1.8v1.8h-1.8zM438.25,579.79h1.8v1.8h-1.8zM438.25,583.33h1.8v1.8h-1.8zM438.25,585.95h1.8v1.8h-1.8zM434.25,593.02h1.8v1.8h-1.8zM438.25,594.87h1.8v1.8h-1.8zM434.25,596.72h1.8v1.8h-1.8zM442.25,597.95h1.8v1.8h-1.8zM438.25,599.18h1.8v1.8h-1.8zM430.25,602.25h1.8v1.8h-1.8zM434.25,604.10h1.8v1.8h-1.8zM438.25,603.33h1.8v1.8h-1.8zM430.25,605.33h1.8v1.8h-1.8zM434.25,605.64h1.8v1.8h-1.8zM438.25,605.64h1.8v1.8h-1.8zM442.25,605.64h1.8v1.8h-1.8zM446.41,603.33h1.8v1.8h-1.8zM430.25,607.18h1.8v1.8h-1.8zM438.25,607.48h1.8v1.8h-1.8zM446.41,606.41h1.8v1.8h-1.8zM442.25,609.48h1.8v1.8h-1.8zM434.25,613.02h1.8v1.8h-1.8zM438.25,614.10h1.8v1.8h-1.8zM438.25,616.41h1.8v1.8h-1.8zM442.25,618.72h1.8v1.8h-1.8zM430.25,620.25h1.8v1.8h-1.8zM434.25,619.79h1.8v1.8h-1.8zM438.25,621.02h1.8v1.8h-1.8zM442.25,620.25h1.8v1.8h-1.8zM434.25,623.33h1.8v1.8h-1.8zM438.25,623.33h1.8v1.8h-1.8zM442.25,624.10h1.8v1.8h-1.8zM446.41,623.33h1.8v1.8h-1.8zM434.25,625.64h1.8v1.8h-1.8zM438.25,625.33h1.8v1.8h-1.8zM442.25,625.33h1.8v1.8h-1.8zM446.41,625.64h1.8v1.8h-1.8zM430.25,628.41h1.8v1.8h-1.8zM434.25,627.95h1.8v1.8h-1.8zM438.25,628.41h1.8v1.8h-1.8zM442.25,627.18h1.8v1.8h-1.8zM446.41,628.41h1.8v1.8h-1.8zM465.33,553.02h1.8v1.8h-1.8zM461.33,564.10h1.8v1.8h-1.8zM465.33,565.33h1.8v1.8h-1.8zM457.18,567.18h1.8v1.8h-1.8zM461.33,567.95h1.8v1.8h-1.8zM469.48,567.95h1.8v1.8h-1.8zM473.64,567.95h1.8v1.8h-1.8zM461.33,574.10h1.8v1.8h-1.8zM465.33,573.33h1.8v1.8h-1.8zM469.48,572.56h1.8v1.8h-1.8zM473.64,574.10h1.8v1.8h-1.8zM465.33,576.72h1.8v1.8h-1.8zM469.48,575.64h1.8v1.8h-1.8zM457.18,581.02h1.8v1.8h-1.8zM461.33,579.79h1.8v1.8h-1.8zM465.33,581.02h1.8v1.8h-1.8zM469.48,579.79h1.8v1.8h-1.8zM473.64,581.02h1.8v1.8h-1.8zM461.33,582.56h1.8v1.8h-1.8zM469.48,582.56h1.8v1.8h-1.8zM463.33,588.72h1.8v1.8h-1.8zM467.48,587.95h1.8v1.8h-1.8zM461.33,591.02h1.8v1.8h-1.8zM469.48,591.02h1.8v1.8h-1.8zM465.33,591.02h1.8v1.8h-1.8zM465.33,594.10h1.8v1.8h-1.8zM461.33,597.18h1.8v1.8h-1.8zM465.33,597.95h1.8v1.8h-1.8zM469.48,597.18h1.8v1.8h-1.8zM461.33,602.25h1.8v1.8h-1.8zM465.33,603.33h1.8v1.8h-1.8zM469.48,602.87h1.8v1.8h-1.8zM457.18,606.41h1.8v1.8h-1.8zM461.33,607.95h1.8v1.8h-1.8zM465.33,606.41h1.8v1.8h-1.8zM469.48,607.18h1.8v1.8h-1.8zM473.64,606.41h1.8v1.8h-1.8zM465.33,611.02h1.8v1.8h-1.8zM457.18,614.87h1.8v1.8h-1.8zM461.33,614.87h1.8v1.8h-1.8zM461.33,616.41h1.8v1.8h-1.8zM465.33,616.41h1.8v1.8h-1.8zM469.48,615.64h1.8v1.8h-1.8zM473.64,614.87h1.8v1.8h-1.8zM469.48,617.95h1.8v1.8h-1.8zM469.48,621.02h1.8v1.8h-1.8zM465.33,622.56h1.8v1.8h-1.8zM467.48,627.95h1.8v1.8h-1.8zM463.33,629.48h1.8v1.8h-1.8zM493.02,577.95h1.8v1.8h-1.8zM495.64,576.10h1.8v1.8h-1.8zM493.02,597.18h1.8v1.8h-1.8zM493.02,599.48h1.8v1.8h-1.8zM493.02,603.33h1.8v1.8h-1.8zM493.02,611.02h1.8v1.8h-1.8zM495.64,615.64h1.8v1.8h-1.8zM493.02,617.95h1.8v1.8h-1.8zM484.87,624.10h1.8v1.8h-1.8zM488.72,624.41h1.8v1.8h-1.8zM493.02,624.87h1.8v1.8h-1.8zM497.18,624.41h1.8v1.8h-1.8zM501.02,623.33h1.8v1.8h-1.8zM484.87,626.41h1.8v1.8h-1.8zM488.72,626.41h1.8v1.8h-1.8zM493.02,626.87h1.8v1.8h-1.8zM497.18,626.41h1.8v1.8h-1.8zM501.02,625.64h1.8v1.8h-1.8zM484.87,628.72h1.8v1.8h-1.8zM488.72,628.72h1.8v1.8h-1.8zM493.02,628.41h1.8v1.8h-1.8zM497.18,628.72h1.8v1.8h-1.8zM501.02,627.95h1.8v1.8h-1.8zM498.72,624.10h1.8v1.8h-1.8zM496.41,629.48h1.8v1.8h-1.8z" fill="#2a5a9a"/>
<text transform="translate(442.50,644.30) rotate(-45)" x="0" y="0" font-size="10" text-anchor="end" fill="#1a1a1a" stroke="#1a1a1a" stroke-width="0.25" textLength="36.5" lengthAdjust="spacingAndGlyphs">T-replete</text>
<text transform="translate(469.50,644.30) rotate(-45)" x="0" y="0" font-size="10" text-anchor="end" fill="#1a1a1a" stroke="#1a1a1a" stroke-width="0.25" >TCD</text>
<text transform="translate(497.50,644.30) rotate(-45)" x="0" y="0" font-size="10" text-anchor="end" fill="#1a1a1a" stroke="#1a1a1a" stroke-width="0.25" >DUCB</text>
<rect x="0.5" y="0.5" width="519" height="678" fill="none" stroke="#464646" stroke-width="1"/>
</svg></div></body></html>
